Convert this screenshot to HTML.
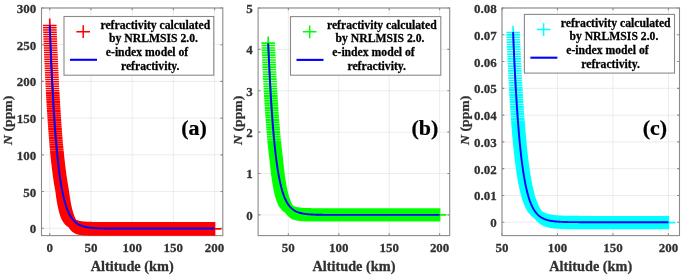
<!DOCTYPE html>
<html><head><meta charset="utf-8"><style>html,body{margin:0;padding:0;background:#fff;width:685px;height:278px;overflow:hidden}</style></head>
<body><div style="position:relative;width:685px;height:278px">
<svg width="685" height="278" viewBox="0 0 685 278" style="position:absolute;left:0;top:0;filter:blur(0.4px)">
<path d="M49.74 8V235.6M90.95 8V235.6M132.15 8V235.6M173.35 8V235.6M214.56 8V235.6M41.5 228.26H222.8M41.5 191.55H222.8M41.5 154.84H222.8M41.5 118.13H222.8M41.5 81.42H222.8M41.5 44.71H222.8M41.5 8H222.8" stroke="#e4e4e4" stroke-width="0.7" fill="none"/>
<path d="M49.74 235.6v-2.3M49.74 8v2.3M90.95 235.6v-2.3M90.95 8v2.3M132.15 235.6v-2.3M132.15 8v2.3M173.35 235.6v-2.3M173.35 8v2.3M214.56 235.6v-2.3M214.56 8v2.3M41.5 228.26h2.3M222.8 228.26h-2.3M41.5 191.55h2.3M222.8 191.55h-2.3M41.5 154.84h2.3M222.8 154.84h-2.3M41.5 118.13h2.3M222.8 118.13h-2.3M41.5 81.42h2.3M222.8 81.42h-2.3M41.5 44.71h2.3M222.8 44.71h-2.3M41.5 8h2.3M222.8 8h-2.3" stroke="#8a8a8a" stroke-width="1.1" fill="none"/>
<rect x="41.5" y="8" width="181.3" height="227.6" stroke="#8a8a8a" stroke-width="1.1" fill="none"/>
<path d="M50.22 152.6h13.6M57.02 145.7v13.8M50.3 153.44h13.6M57.1 146.54v13.8M50.38 154.28h13.6M57.18 147.38v13.8M50.46 155.1h13.6M57.26 148.2v13.8M50.55 155.92h13.6M57.35 149.02v13.8M50.63 156.72h13.6M57.43 149.82v13.8M50.71 157.52h13.6M57.51 150.62v13.8M50.79 158.31h13.6M57.59 151.41v13.8M50.88 159.09h13.6M57.68 152.19v13.8M50.96 159.86h13.6M57.76 152.96v13.8M51.04 160.62h13.6M57.84 153.72v13.8M51.12 161.37h13.6M57.92 154.47v13.8M51.21 162.12h13.6M58.01 155.22v13.8M51.29 162.86h13.6M58.09 155.96v13.8M51.37 163.59h13.6M58.17 156.69v13.8M51.45 164.31h13.6M58.25 157.41v13.8M51.53 165.02h13.6M58.33 158.12v13.8M51.62 165.73h13.6M58.42 158.83v13.8M51.7 166.42h13.6M58.5 159.52v13.8M51.78 167.11h13.6M58.58 160.21v13.8M51.86 167.8h13.6M58.66 160.9v13.8M51.95 168.47h13.6M58.75 161.57v13.8M52.03 169.14h13.6M58.83 162.24v13.8M52.11 169.8h13.6M58.91 162.9v13.8M52.19 170.45h13.6M58.99 163.55v13.8M52.28 171.1h13.6M59.08 164.2v13.8M52.36 171.73h13.6M59.16 164.83v13.8M52.44 172.36h13.6M59.24 165.46v13.8M52.52 172.99h13.6M59.32 166.09v13.8M52.61 173.61h13.6M59.41 166.71v13.8M52.69 174.22h13.6M59.49 167.32v13.8M52.77 174.82h13.6M59.57 167.92v13.8M52.85 175.42h13.6M59.65 168.52v13.8M52.94 176.01h13.6M59.74 169.11v13.8M53.02 176.59h13.6M59.82 169.69v13.8M53.1 177.17h13.6M59.9 170.27v13.8M53.18 177.74h13.6M59.98 170.84v13.8M53.27 178.31h13.6M60.07 171.41v13.8M53.35 178.86h13.6M60.15 171.96v13.8M53.43 179.42h13.6M60.23 172.52v13.8M53.51 179.96h13.6M60.31 173.06v13.8M53.59 180.5h13.6M60.39 173.6v13.8M53.68 181.04h13.6M60.48 174.14v13.8M53.76 181.57h13.6M60.56 174.67v13.8M53.84 182.09h13.6M60.64 175.19v13.8M53.92 182.61h13.6M60.72 175.71v13.8M54.01 183.12h13.6M60.81 176.22v13.8M54.09 183.62h13.6M60.89 176.72v13.8M54.17 184.12h13.6M60.97 177.22v13.8M54.25 184.62h13.6M61.05 177.72v13.8M54.34 185.1h13.6M61.14 178.2v13.8M54.42 185.59h13.6M61.22 178.69v13.8M54.5 186.07h13.6M61.3 179.17v13.8M54.58 186.54h13.6M61.38 179.64v13.8M54.67 187.01h13.6M61.47 180.11v13.8M54.75 187.47h13.6M61.55 180.57v13.8M54.83 187.93h13.6M61.63 181.03v13.8M54.91 188.38h13.6M61.71 181.48v13.8M55 188.83h13.6M61.8 181.93v13.8M55.08 189.27h13.6M61.88 182.37v13.8M55.16 189.71h13.6M61.96 182.81v13.8M55.24 190.14h13.6M62.04 183.24v13.8M55.33 190.63h13.6M62.13 183.73v13.8M55.41 191.29h13.6M62.21 184.39v13.8M55.49 191.94h13.6M62.29 185.04v13.8M55.57 192.57h13.6M62.37 185.67v13.8M55.66 193.2h13.6M62.46 186.3v13.8M55.74 193.81h13.6M62.54 186.91v13.8M55.82 194.42h13.6M62.62 187.52v13.8M55.9 195.01h13.6M62.7 188.11v13.8M55.98 195.59h13.6M62.78 188.69v13.8M56.07 196.16h13.6M62.87 189.26v13.8M56.15 196.73h13.6M62.95 189.83v13.8M56.23 197.28h13.6M63.03 190.38v13.8M56.31 197.82h13.6M63.11 190.92v13.8M56.4 198.36h13.6M63.2 191.46v13.8M56.48 198.88h13.6M63.28 191.98v13.8M56.56 199.4h13.6M63.36 192.5v13.8M56.64 199.9h13.6M63.44 193v13.8M56.73 200.4h13.6M63.53 193.5v13.8M56.81 200.89h13.6M63.61 193.99v13.8M56.89 201.37h13.6M63.69 194.47v13.8M56.97 201.85h13.6M63.77 194.95v13.8M57.06 202.31h13.6M63.86 195.41v13.8M57.14 202.77h13.6M63.94 195.87v13.8M57.22 203.22h13.6M64.02 196.32v13.8M57.3 203.66h13.6M64.1 196.76v13.8M57.39 204.09h13.6M64.19 197.19v13.8M57.47 204.52h13.6M64.27 197.62v13.8M57.55 204.94h13.6M64.35 198.04v13.8M57.63 205.35h13.6M64.43 198.45v13.8M57.72 205.75h13.6M64.52 198.85v13.8M57.8 206.15h13.6M64.6 199.25v13.8M57.88 206.54h13.6M64.68 199.64v13.8M57.96 206.93h13.6M64.76 200.03v13.8M58.05 207.3h13.6M64.85 200.4v13.8M58.13 207.68h13.6M64.93 200.78v13.8M58.21 208.04h13.6M65.01 201.14v13.8M58.29 208.4h13.6M65.09 201.5v13.8M58.37 208.75h13.6M65.17 201.85v13.8M58.46 209.1h13.6M65.26 202.2v13.8M58.54 209.44h13.6M65.34 202.54v13.8M58.62 209.77h13.6M65.42 202.87v13.8M58.7 210.1h13.6M65.5 203.2v13.8M58.79 210.42h13.6M65.59 203.52v13.8M58.87 210.74h13.6M65.67 203.84v13.8M58.95 211.05h13.6M65.75 204.15v13.8M59.03 211.36h13.6M65.83 204.46v13.8M59.12 211.66h13.6M65.92 204.76v13.8M59.2 211.95h13.6M66 205.05v13.8M59.28 212.25h13.6M66.08 205.35v13.8M59.36 212.53h13.6M66.16 205.63v13.8M59.45 212.81h13.6M66.25 205.91v13.8M59.53 213.09h13.6M66.33 206.19v13.8M59.61 213.36h13.6M66.41 206.46v13.8M59.69 213.63h13.6M66.49 206.73v13.8M59.78 213.89h13.6M66.58 206.99v13.8M59.86 214.15h13.6M66.66 207.25v13.8M59.94 214.4h13.6M66.74 207.5v13.8M60.02 214.65h13.6M66.82 207.75v13.8M60.11 214.89h13.6M66.91 207.99v13.8M60.19 215.13h13.6M66.99 208.23v13.8M60.27 215.37h13.6M67.07 208.47v13.8M60.35 215.6h13.6M67.15 208.7v13.8M60.43 215.83h13.6M67.23 208.93v13.8M60.52 216.05h13.6M67.32 209.15v13.8M60.6 216.27h13.6M67.4 209.37v13.8M60.68 216.49h13.6M67.48 209.59v13.8M60.76 216.7h13.6M67.56 209.8v13.8M60.85 216.91h13.6M67.65 210.01v13.8M60.93 217.12h13.6M67.73 210.22v13.8M61.01 217.32h13.6M67.81 210.42v13.8M61.09 217.52h13.6M67.89 210.62v13.8M61.18 217.71h13.6M67.98 210.81v13.8M61.26 217.91h13.6M68.06 211.01v13.8M61.34 218.1h13.6M68.14 211.2v13.8M61.42 218.28h13.6M68.22 211.38v13.8M61.51 218.46h13.6M68.31 211.56v13.8M61.59 218.64h13.6M68.39 211.74v13.8M61.67 218.82h13.6M68.47 211.92v13.8M61.75 218.99h13.6M68.55 212.09v13.8M61.84 219.16h13.6M68.64 212.26v13.8M61.92 219.33h13.6M68.72 212.43v13.8M62 219.49h13.6M68.8 212.59v13.8M62.08 219.65h13.6M68.88 212.75v13.8M62.17 219.81h13.6M68.97 212.91v13.8M62.25 219.97h13.6M69.05 213.07v13.8M62.33 220.12h13.6M69.13 213.22v13.8M62.41 220.27h13.6M69.21 213.37v13.8M62.5 220.42h13.6M69.3 213.52v13.8M62.58 220.56h13.6M69.38 213.66v13.8M62.99 221.25h13.6M69.79 214.35v13.8M63.4 221.88h13.6M70.2 214.98v13.8M63.81 222.46h13.6M70.61 215.56v13.8M64.23 223h13.6M71.03 216.1v13.8M64.64 223.48h13.6M71.44 216.58v13.8M65.05 223.93h13.6M71.85 217.03v13.8M65.46 224.34h13.6M72.26 217.44v13.8M65.87 224.72h13.6M72.67 217.82v13.8M66.29 225.06h13.6M73.09 218.16v13.8M66.7 225.38h13.6M73.5 218.48v13.8M67.11 225.67h13.6M73.91 218.77v13.8M67.52 225.93h13.6M74.32 219.03v13.8M67.93 226.17h13.6M74.73 219.27v13.8M68.35 226.4h13.6M75.15 219.5v13.8M68.76 226.6h13.6M75.56 219.7v13.8M69.17 226.79h13.6M75.97 219.89v13.8M69.58 226.96h13.6M76.38 220.06v13.8M69.99 227.12h13.6M76.79 220.22v13.8M70.41 227.26h13.6M77.21 220.36v13.8M70.82 227.4h13.6M77.62 220.5v13.8M71.23 227.52h13.6M78.03 220.62v13.8M71.64 227.63h13.6M78.44 220.73v13.8M72.05 227.73h13.6M78.85 220.83v13.8M72.47 227.83h13.6M79.27 220.93v13.8M72.88 227.91h13.6M79.68 221.01v13.8M73.29 227.99h13.6M80.09 221.09v13.8M73.7 228.06h13.6M80.5 221.16v13.8M74.11 228.13h13.6M80.91 221.23v13.8M74.53 228.19h13.6M81.33 221.29v13.8M74.94 228.24h13.6M81.74 221.34v13.8M75.35 228.3h13.6M82.15 221.4v13.8M75.76 228.34h13.6M82.56 221.44v13.8M76.18 228.39h13.6M82.98 221.49v13.8M76.59 228.42h13.6M83.39 221.52v13.8M77 228.46h13.6M83.8 221.56v13.8M77.41 228.49h13.6M84.21 221.59v13.8M77.82 228.52h13.6M84.62 221.62v13.8M78.24 228.55h13.6M85.04 221.65v13.8M78.65 228.58h13.6M85.45 221.68v13.8M79.06 228.6h13.6M85.86 221.7v13.8M79.47 228.62h13.6M86.27 221.72v13.8M79.88 228.64h13.6M86.68 221.74v13.8M80.3 228.66h13.6M87.1 221.76v13.8M80.71 228.68h13.6M87.51 221.78v13.8M81.12 228.69h13.6M87.92 221.79v13.8M81.53 228.71h13.6M88.33 221.81v13.8M81.94 228.72h13.6M88.74 221.82v13.8M82.36 228.73h13.6M89.16 221.83v13.8M82.77 228.74h13.6M89.57 221.84v13.8M83.18 228.75h13.6M89.98 221.85v13.8M83.59 228.76h13.6M90.39 221.86v13.8M84 228.77h13.6M90.8 221.87v13.8M84.42 228.77h13.6M91.22 221.87v13.8M84.83 228.78h13.6M91.63 221.88v13.8M85.24 228.79h13.6M92.04 221.89v13.8M85.65 228.79h13.6M92.45 221.89v13.8M86.06 228.8h13.6M92.86 221.9v13.8M86.48 228.8h13.6M93.28 221.9v13.8M86.89 228.81h13.6M93.69 221.91v13.8M87.3 228.81h13.6M94.1 221.91v13.8M87.71 228.82h13.6M94.51 221.92v13.8M88.12 228.82h13.6M94.92 221.92v13.8M88.54 228.82h13.6M95.34 221.92v13.8M88.95 228.83h13.6M95.75 221.93v13.8M89.36 228.83h13.6M96.16 221.93v13.8M89.77 228.83h13.6M96.57 221.93v13.8M90.18 228.83h13.6M96.98 221.93v13.8M90.6 228.84h13.6M97.4 221.94v13.8M91.01 228.84h13.6M97.81 221.94v13.8M91.42 228.84h13.6M98.22 221.94v13.8M91.83 228.84h13.6M98.63 221.94v13.8M92.24 228.84h13.6M99.04 221.94v13.8M92.66 228.84h13.6M99.46 221.94v13.8M93.07 228.84h13.6M99.87 221.94v13.8M93.48 228.85h13.6M100.28 221.95v13.8M93.89 228.85h13.6M100.69 221.95v13.8M94.31 228.85h13.6M101.11 221.95v13.8M94.72 228.85h13.6M101.52 221.95v13.8M95.13 228.85h13.6M101.93 221.95v13.8M95.54 228.85h13.6M102.34 221.95v13.8M95.95 228.85h13.6M102.75 221.95v13.8M96.37 228.85h13.6M103.17 221.95v13.8M96.78 228.85h13.6M103.58 221.95v13.8M97.19 228.85h13.6M103.99 221.95v13.8M97.6 228.85h13.6M104.4 221.95v13.8M98.01 228.85h13.6M104.81 221.95v13.8M98.43 228.85h13.6M105.23 221.95v13.8M98.84 228.85h13.6M105.64 221.95v13.8M99.25 228.85h13.6M106.05 221.95v13.8M99.66 228.85h13.6M106.46 221.95v13.8M100.07 228.85h13.6M106.87 221.95v13.8M100.49 228.86h13.6M107.29 221.96v13.8M100.9 228.86h13.6M107.7 221.96v13.8M101.31 228.86h13.6M108.11 221.96v13.8M101.72 228.86h13.6M108.52 221.96v13.8M102.13 228.86h13.6M108.93 221.96v13.8M102.55 228.86h13.6M109.35 221.96v13.8M102.96 228.86h13.6M109.76 221.96v13.8M103.37 228.86h13.6M110.17 221.96v13.8M103.78 228.86h13.6M110.58 221.96v13.8M104.19 228.86h13.6M110.99 221.96v13.8M104.61 228.86h13.6M111.41 221.96v13.8M105.02 228.86h13.6M111.82 221.96v13.8M105.43 228.86h13.6M112.23 221.96v13.8M105.84 228.86h13.6M112.64 221.96v13.8M106.25 228.86h13.6M113.05 221.96v13.8M106.67 228.86h13.6M113.47 221.96v13.8M107.08 228.86h13.6M113.88 221.96v13.8M107.49 228.86h13.6M114.29 221.96v13.8M107.9 228.86h13.6M114.7 221.96v13.8M108.31 228.86h13.6M115.11 221.96v13.8M108.73 228.86h13.6M115.53 221.96v13.8M109.14 228.86h13.6M115.94 221.96v13.8M109.55 228.86h13.6M116.35 221.96v13.8M109.96 228.86h13.6M116.76 221.96v13.8M110.37 228.86h13.6M117.17 221.96v13.8M110.79 228.86h13.6M117.59 221.96v13.8M111.2 228.86h13.6M118 221.96v13.8M111.61 228.86h13.6M118.41 221.96v13.8M112.02 228.86h13.6M118.82 221.96v13.8M112.44 228.86h13.6M119.24 221.96v13.8M112.85 228.86h13.6M119.65 221.96v13.8M113.26 228.86h13.6M120.06 221.96v13.8M113.67 228.86h13.6M120.47 221.96v13.8M114.08 228.86h13.6M120.88 221.96v13.8M114.5 228.86h13.6M121.3 221.96v13.8M114.91 228.86h13.6M121.71 221.96v13.8M115.32 228.86h13.6M122.12 221.96v13.8M115.73 228.86h13.6M122.53 221.96v13.8M116.14 228.86h13.6M122.94 221.96v13.8M116.56 228.86h13.6M123.36 221.96v13.8M116.97 228.86h13.6M123.77 221.96v13.8M117.38 228.86h13.6M124.18 221.96v13.8M117.79 228.86h13.6M124.59 221.96v13.8M118.2 228.86h13.6M125 221.96v13.8M118.62 228.86h13.6M125.42 221.96v13.8M119.03 228.86h13.6M125.83 221.96v13.8M119.44 228.86h13.6M126.24 221.96v13.8M119.85 228.86h13.6M126.65 221.96v13.8M120.26 228.86h13.6M127.06 221.96v13.8M120.68 228.86h13.6M127.48 221.96v13.8M121.09 228.86h13.6M127.89 221.96v13.8M121.5 228.86h13.6M128.3 221.96v13.8M121.91 228.86h13.6M128.71 221.96v13.8M122.32 228.86h13.6M129.12 221.96v13.8M122.74 228.86h13.6M129.54 221.96v13.8M123.15 228.86h13.6M129.95 221.96v13.8M123.56 228.86h13.6M130.36 221.96v13.8M123.97 228.86h13.6M130.77 221.96v13.8M124.38 228.86h13.6M131.18 221.96v13.8M124.8 228.86h13.6M131.6 221.96v13.8M125.21 228.86h13.6M132.01 221.96v13.8M125.62 228.86h13.6M132.42 221.96v13.8M126.03 228.86h13.6M132.83 221.96v13.8M126.44 228.86h13.6M133.24 221.96v13.8M126.86 228.86h13.6M133.66 221.96v13.8M127.27 228.86h13.6M134.07 221.96v13.8M127.68 228.86h13.6M134.48 221.96v13.8M128.09 228.86h13.6M134.89 221.96v13.8M128.5 228.86h13.6M135.3 221.96v13.8M128.92 228.86h13.6M135.72 221.96v13.8M129.33 228.86h13.6M136.13 221.96v13.8M129.74 228.86h13.6M136.54 221.96v13.8M130.15 228.86h13.6M136.95 221.96v13.8M130.57 228.86h13.6M137.37 221.96v13.8M130.98 228.86h13.6M137.78 221.96v13.8M131.39 228.86h13.6M138.19 221.96v13.8M131.8 228.86h13.6M138.6 221.96v13.8M132.21 228.86h13.6M139.01 221.96v13.8M132.63 228.86h13.6M139.43 221.96v13.8M133.04 228.86h13.6M139.84 221.96v13.8M133.45 228.86h13.6M140.25 221.96v13.8M133.86 228.86h13.6M140.66 221.96v13.8M134.27 228.86h13.6M141.07 221.96v13.8M134.69 228.86h13.6M141.49 221.96v13.8M135.1 228.86h13.6M141.9 221.96v13.8M135.51 228.86h13.6M142.31 221.96v13.8M135.92 228.86h13.6M142.72 221.96v13.8M136.33 228.86h13.6M143.13 221.96v13.8M136.75 228.86h13.6M143.55 221.96v13.8M137.16 228.86h13.6M143.96 221.96v13.8M137.57 228.86h13.6M144.37 221.96v13.8M137.98 228.86h13.6M144.78 221.96v13.8M138.39 228.86h13.6M145.19 221.96v13.8M138.81 228.86h13.6M145.61 221.96v13.8M139.22 228.86h13.6M146.02 221.96v13.8M139.63 228.86h13.6M146.43 221.96v13.8M140.04 228.86h13.6M146.84 221.96v13.8M140.45 228.86h13.6M147.25 221.96v13.8M140.87 228.86h13.6M147.67 221.96v13.8M141.28 228.86h13.6M148.08 221.96v13.8M141.69 228.86h13.6M148.49 221.96v13.8M142.1 228.86h13.6M148.9 221.96v13.8M142.51 228.86h13.6M149.31 221.96v13.8M142.93 228.86h13.6M149.73 221.96v13.8M143.34 228.86h13.6M150.14 221.96v13.8M143.75 228.86h13.6M150.55 221.96v13.8M144.16 228.86h13.6M150.96 221.96v13.8M144.57 228.86h13.6M151.37 221.96v13.8M144.99 228.86h13.6M151.79 221.96v13.8M145.4 228.86h13.6M152.2 221.96v13.8M145.81 228.86h13.6M152.61 221.96v13.8M146.22 228.86h13.6M153.02 221.96v13.8M146.63 228.86h13.6M153.43 221.96v13.8M147.05 228.86h13.6M153.85 221.96v13.8M147.46 228.86h13.6M154.26 221.96v13.8M147.87 228.86h13.6M154.67 221.96v13.8M148.28 228.86h13.6M155.08 221.96v13.8M148.7 228.86h13.6M155.5 221.96v13.8M149.11 228.86h13.6M155.91 221.96v13.8M149.52 228.86h13.6M156.32 221.96v13.8M149.93 228.86h13.6M156.73 221.96v13.8M150.34 228.86h13.6M157.14 221.96v13.8M150.76 228.86h13.6M157.56 221.96v13.8M151.17 228.86h13.6M157.97 221.96v13.8M151.58 228.86h13.6M158.38 221.96v13.8M151.99 228.86h13.6M158.79 221.96v13.8M152.4 228.86h13.6M159.2 221.96v13.8M152.82 228.86h13.6M159.62 221.96v13.8M153.23 228.86h13.6M160.03 221.96v13.8M153.64 228.86h13.6M160.44 221.96v13.8M154.05 228.86h13.6M160.85 221.96v13.8M154.46 228.86h13.6M161.26 221.96v13.8M154.88 228.86h13.6M161.68 221.96v13.8M155.29 228.86h13.6M162.09 221.96v13.8M155.7 228.86h13.6M162.5 221.96v13.8M156.11 228.86h13.6M162.91 221.96v13.8M156.52 228.86h13.6M163.32 221.96v13.8M156.94 228.86h13.6M163.74 221.96v13.8M157.35 228.86h13.6M164.15 221.96v13.8M157.76 228.86h13.6M164.56 221.96v13.8M158.17 228.86h13.6M164.97 221.96v13.8M158.58 228.86h13.6M165.38 221.96v13.8M159 228.86h13.6M165.8 221.96v13.8M159.41 228.86h13.6M166.21 221.96v13.8M159.82 228.86h13.6M166.62 221.96v13.8M160.23 228.86h13.6M167.03 221.96v13.8M160.64 228.86h13.6M167.44 221.96v13.8M161.06 228.86h13.6M167.86 221.96v13.8M161.47 228.86h13.6M168.27 221.96v13.8M161.88 228.86h13.6M168.68 221.96v13.8M162.29 228.86h13.6M169.09 221.96v13.8M162.7 228.86h13.6M169.5 221.96v13.8M163.12 228.86h13.6M169.92 221.96v13.8M163.53 228.86h13.6M170.33 221.96v13.8M163.94 228.86h13.6M170.74 221.96v13.8M164.35 228.86h13.6M171.15 221.96v13.8M164.76 228.86h13.6M171.56 221.96v13.8M165.18 228.86h13.6M171.98 221.96v13.8M165.59 228.86h13.6M172.39 221.96v13.8M166 228.86h13.6M172.8 221.96v13.8M166.41 228.86h13.6M173.21 221.96v13.8M166.83 228.86h13.6M173.63 221.96v13.8M167.24 228.86h13.6M174.04 221.96v13.8M167.65 228.86h13.6M174.45 221.96v13.8M168.06 228.86h13.6M174.86 221.96v13.8M168.47 228.86h13.6M175.27 221.96v13.8M168.89 228.86h13.6M175.69 221.96v13.8M169.3 228.86h13.6M176.1 221.96v13.8M169.71 228.86h13.6M176.51 221.96v13.8M170.12 228.86h13.6M176.92 221.96v13.8M170.53 228.86h13.6M177.33 221.96v13.8M170.95 228.86h13.6M177.75 221.96v13.8M171.36 228.86h13.6M178.16 221.96v13.8M171.77 228.86h13.6M178.57 221.96v13.8M172.18 228.86h13.6M178.98 221.96v13.8M172.59 228.86h13.6M179.39 221.96v13.8M173.01 228.86h13.6M179.81 221.96v13.8M173.42 228.86h13.6M180.22 221.96v13.8M173.83 228.86h13.6M180.63 221.96v13.8M174.24 228.86h13.6M181.04 221.96v13.8M174.65 228.86h13.6M181.45 221.96v13.8M175.07 228.86h13.6M181.87 221.96v13.8M175.48 228.86h13.6M182.28 221.96v13.8M175.89 228.86h13.6M182.69 221.96v13.8M176.3 228.86h13.6M183.1 221.96v13.8M176.71 228.86h13.6M183.51 221.96v13.8M177.13 228.86h13.6M183.93 221.96v13.8M177.54 228.86h13.6M184.34 221.96v13.8M177.95 228.86h13.6M184.75 221.96v13.8M178.36 228.86h13.6M185.16 221.96v13.8M178.77 228.86h13.6M185.57 221.96v13.8M179.19 228.86h13.6M185.99 221.96v13.8M179.6 228.86h13.6M186.4 221.96v13.8M180.01 228.86h13.6M186.81 221.96v13.8M180.42 228.86h13.6M187.22 221.96v13.8M180.83 228.86h13.6M187.63 221.96v13.8M181.25 228.86h13.6M188.05 221.96v13.8M181.66 228.86h13.6M188.46 221.96v13.8M182.07 228.86h13.6M188.87 221.96v13.8M182.48 228.86h13.6M189.28 221.96v13.8M182.89 228.86h13.6M189.69 221.96v13.8M183.31 228.86h13.6M190.11 221.96v13.8M183.72 228.86h13.6M190.52 221.96v13.8M184.13 228.86h13.6M190.93 221.96v13.8M184.54 228.86h13.6M191.34 221.96v13.8M184.96 228.86h13.6M191.76 221.96v13.8M185.37 228.86h13.6M192.17 221.96v13.8M185.78 228.86h13.6M192.58 221.96v13.8M186.19 228.86h13.6M192.99 221.96v13.8M186.6 228.86h13.6M193.4 221.96v13.8M187.02 228.86h13.6M193.82 221.96v13.8M187.43 228.86h13.6M194.23 221.96v13.8M187.84 228.86h13.6M194.64 221.96v13.8M188.25 228.86h13.6M195.05 221.96v13.8M188.66 228.86h13.6M195.46 221.96v13.8M189.08 228.86h13.6M195.88 221.96v13.8M189.49 228.86h13.6M196.29 221.96v13.8M189.9 228.86h13.6M196.7 221.96v13.8M190.31 228.86h13.6M197.11 221.96v13.8M190.72 228.86h13.6M197.52 221.96v13.8M191.14 228.86h13.6M197.94 221.96v13.8M191.55 228.86h13.6M198.35 221.96v13.8M191.96 228.86h13.6M198.76 221.96v13.8M192.37 228.86h13.6M199.17 221.96v13.8M192.78 228.86h13.6M199.58 221.96v13.8M193.2 228.86h13.6M200 221.96v13.8M193.61 228.86h13.6M200.41 221.96v13.8M194.02 228.86h13.6M200.82 221.96v13.8M194.43 228.86h13.6M201.23 221.96v13.8M194.84 228.86h13.6M201.64 221.96v13.8M195.26 228.86h13.6M202.06 221.96v13.8M195.67 228.86h13.6M202.47 221.96v13.8M196.08 228.86h13.6M202.88 221.96v13.8M196.49 228.86h13.6M203.29 221.96v13.8M196.9 228.86h13.6M203.7 221.96v13.8M197.32 228.86h13.6M204.12 221.96v13.8M197.73 228.86h13.6M204.53 221.96v13.8M198.14 228.86h13.6M204.94 221.96v13.8M198.55 228.86h13.6M205.35 221.96v13.8M198.96 228.86h13.6M205.76 221.96v13.8M199.38 228.86h13.6M206.18 221.96v13.8M199.79 228.86h13.6M206.59 221.96v13.8M200.2 228.86h13.6M207 221.96v13.8M200.61 228.86h13.6M207.41 221.96v13.8M201.02 228.86h13.6M207.82 221.96v13.8M201.44 228.86h13.6M208.24 221.96v13.8M201.85 228.86h13.6M208.65 221.96v13.8M202.26 228.86h13.6M209.06 221.96v13.8M202.67 228.86h13.6M209.47 221.96v13.8M203.09 228.86h13.6M209.89 221.96v13.8M203.5 228.86h13.6M210.3 221.96v13.8M203.91 228.86h13.6M210.71 221.96v13.8M204.32 228.86h13.6M211.12 221.96v13.8M204.73 228.86h13.6M211.53 221.96v13.8M205.15 228.86h13.6M211.95 221.96v13.8M205.56 228.86h13.6M212.36 221.96v13.8M205.97 228.86h13.6M212.77 221.96v13.8M206.38 228.86h13.6M213.18 221.96v13.8M206.79 228.86h13.6M213.59 221.96v13.8M207.21 228.86h13.6M214.01 221.96v13.8M207.62 228.86h13.6M214.42 221.96v13.8M207.76 228.86h13.6M214.56 221.96v13.8" stroke="#ff0000" stroke-width="1.6" fill="none"/>
<path d="M45.93 92.99h13.6M52.73 86.09v13.8M46.06 95.24h13.6M52.86 88.34v13.8M46.18 97.49h13.6M52.98 90.59v13.8M46.31 99.74h13.6M53.11 92.84v13.8M46.44 101.99h13.6M53.24 95.09v13.8M46.57 104.24h13.6M53.37 97.34v13.8M46.71 106.49h13.6M53.51 99.59v13.8M46.85 108.74h13.6M53.65 101.84v13.8M46.99 110.99h13.6M53.79 104.09v13.8M47.13 113.24h13.6M53.93 106.34v13.8M47.28 115.49h13.6M54.08 108.59v13.8M47.42 117.74h13.6M54.22 110.84v13.8M47.58 119.99h13.6M54.38 113.09v13.8M47.73 122.24h13.6M54.53 115.34v13.8M47.89 124.49h13.6M54.69 117.59v13.8M48.05 126.74h13.6M54.85 119.84v13.8M48.22 128.99h13.6M55.02 122.09v13.8M48.38 131.24h13.6M55.18 124.34v13.8M48.56 133.49h13.6M55.36 126.59v13.8M48.73 135.74h13.6M55.53 128.84v13.8M48.92 137.99h13.6M55.72 131.09v13.8M49.1 140.24h13.6M55.9 133.34v13.8M49.29 142.49h13.6M56.09 135.59v13.8M49.49 144.74h13.6M56.29 137.84v13.8M49.69 146.99h13.6M56.49 140.09v13.8M49.9 149.24h13.6M56.7 142.34v13.8M50.11 151.49h13.6M56.91 144.59v13.8" stroke="#ff0000" stroke-width="2.0" fill="none"/>
<path d="M42.94 25.49h13.6M49.74 18.59v13.8M43.02 27.74h13.6M49.82 20.84v13.8M43.11 29.99h13.6M49.91 23.09v13.8M43.19 32.24h13.6M49.99 25.34v13.8M43.28 34.49h13.6M50.08 27.59v13.8M43.36 36.74h13.6M50.16 29.84v13.8M43.45 38.99h13.6M50.25 32.09v13.8M43.54 41.24h13.6M50.34 34.34v13.8M43.63 43.49h13.6M50.43 36.59v13.8M43.72 45.74h13.6M50.52 38.84v13.8M43.81 47.99h13.6M50.61 41.09v13.8M43.9 50.24h13.6M50.7 43.34v13.8M44 52.49h13.6M50.8 45.59v13.8M44.09 54.74h13.6M50.89 47.84v13.8M44.19 56.99h13.6M50.99 50.09v13.8M44.29 59.24h13.6M51.09 52.34v13.8M44.39 61.49h13.6M51.19 54.59v13.8M44.49 63.74h13.6M51.29 56.84v13.8M44.59 65.99h13.6M51.39 59.09v13.8M44.69 68.24h13.6M51.49 61.34v13.8M44.8 70.49h13.6M51.6 63.59v13.8M44.9 72.74h13.6M51.7 65.84v13.8M45.01 74.99h13.6M51.81 68.09v13.8M45.12 77.24h13.6M51.92 70.34v13.8M45.23 79.49h13.6M52.03 72.59v13.8M45.34 81.74h13.6M52.14 74.84v13.8M45.46 83.99h13.6M52.26 77.09v13.8M45.57 86.24h13.6M52.37 79.34v13.8M45.69 88.49h13.6M52.49 81.59v13.8M45.81 90.74h13.6M52.61 83.84v13.8" stroke="#ff0000" stroke-width="1.6" fill="none"/>
<path d="M49.74 25.19L50.15 36.18L50.56 46.57L50.98 56.41L51.39 65.71L51.8 74.51L52.21 82.84L52.63 90.71L53.04 98.16L53.45 105.21L53.86 111.87L54.27 118.18L54.69 124.14L55.1 129.79L55.51 135.12L55.92 140.17L56.33 144.95L56.75 149.47L57.16 153.74L57.57 157.78L57.98 161.61L58.39 165.23L58.81 168.65L59.22 171.89L59.63 174.95L60.04 177.85L60.45 180.59L60.87 183.18L61.28 185.63L61.69 187.95L62.1 190.15L62.51 192.22L62.93 194.19L63.34 196.04L63.75 197.8L64.16 199.46L64.57 201.03L64.99 202.52L65.4 203.93L65.81 205.26L66.22 206.52L66.63 207.71L67.05 208.84L67.46 209.9L67.87 210.91L68.28 211.86L68.69 212.77L69.11 213.62L69.52 214.43L69.93 215.19L70.34 215.91L70.76 216.6L71.17 217.24L71.58 217.85L71.99 218.43L72.4 218.98L72.82 219.5L73.23 219.99L73.64 220.45L74.05 220.89L74.46 221.3L74.88 221.7L75.29 222.07L75.7 222.42L76.11 222.75L76.52 223.06L76.94 223.36L77.35 223.64L77.76 223.91L78.17 224.16L78.58 224.4L79 224.62L79.41 224.83L79.82 225.03L80.23 225.22L80.64 225.41L81.06 225.58L81.47 225.74L81.88 225.89L82.29 226.03L82.7 226.17L83.12 226.3L83.53 226.42L83.94 226.54L84.35 226.65L84.76 226.75L85.18 226.85L85.59 226.94L86 227.03L86.41 227.11L86.83 227.19L87.24 227.26L87.65 227.33L88.06 227.4L88.47 227.46L88.89 227.52L89.3 227.58L89.71 227.63L90.12 227.68L90.53 227.73L90.95 227.77L91.36 227.81L91.77 227.85L92.18 227.89L92.59 227.93L93.01 227.96L93.42 227.99L93.83 228.03L94.24 228.05L94.65 228.08L95.07 228.11L95.48 228.13L95.89 228.15L96.3 228.18L96.71 228.2L97.13 228.22L97.54 228.23L97.95 228.25L98.36 228.27L98.77 228.28L99.19 228.3L99.6 228.31L100.01 228.33L100.42 228.34L100.83 228.35L101.25 228.36L101.66 228.37L102.07 228.38L102.48 228.39L102.89 228.4L103.31 228.41L103.72 228.42L104.13 228.43L104.54 228.43L104.95 228.44L105.37 228.45L105.78 228.45L106.19 228.46L106.6 228.46L107.02 228.47L107.43 228.47L107.84 228.48L108.25 228.48L108.66 228.49L109.08 228.49L109.49 228.49L109.9 228.5L110.31 228.5L110.72 228.5L111.14 228.51L111.55 228.51L111.96 228.51L112.37 228.51L112.78 228.52L113.2 228.52L113.61 228.52L114.02 228.52L114.43 228.52L114.84 228.53L115.26 228.53L115.67 228.53L116.08 228.53L116.49 228.53L116.9 228.53L117.32 228.54L117.73 228.54L118.14 228.54L118.55 228.54L118.96 228.54L119.38 228.54L119.79 228.54L120.2 228.54L120.61 228.54L121.02 228.54L121.44 228.55L121.85 228.55L122.26 228.55L122.67 228.55L123.09 228.55L123.5 228.55L123.91 228.55L124.32 228.55L124.73 228.55L125.15 228.55L125.56 228.55L125.97 228.55L126.38 228.55L126.79 228.55L127.21 228.55L127.62 228.55L128.03 228.55L128.44 228.55L128.85 228.55L129.27 228.55L129.68 228.55L130.09 228.55L130.5 228.55L130.91 228.55L131.33 228.55L131.74 228.55L132.15 228.56L132.56 228.56L132.97 228.56L133.39 228.56L133.8 228.56L134.21 228.56L134.62 228.56L135.03 228.56L135.45 228.56L135.86 228.56L136.27 228.56L136.68 228.56L137.09 228.56L137.51 228.56L137.92 228.56L138.33 228.56L138.74 228.56L139.15 228.56L139.57 228.56L139.98 228.56L140.39 228.56L140.8 228.56L141.22 228.56L141.63 228.56L142.04 228.56L142.45 228.56L142.86 228.56L143.28 228.56L143.69 228.56L144.1 228.56L144.51 228.56L144.92 228.56L145.34 228.56L145.75 228.56L146.16 228.56L146.57 228.56L146.98 228.56L147.4 228.56L147.81 228.56L148.22 228.56L148.63 228.56L149.04 228.56L149.46 228.56L149.87 228.56L150.28 228.56L150.69 228.56L151.1 228.56L151.52 228.56L151.93 228.56L152.34 228.56L152.75 228.56L153.16 228.56L153.58 228.56L153.99 228.56L154.4 228.56L154.81 228.56L155.22 228.56L155.64 228.56L156.05 228.56L156.46 228.56L156.87 228.56L157.28 228.56L157.7 228.56L158.11 228.56L158.52 228.56L158.93 228.56L159.35 228.56L159.76 228.56L160.17 228.56L160.58 228.56L160.99 228.56L161.41 228.56L161.82 228.56L162.23 228.56L162.64 228.56L163.05 228.56L163.47 228.56L163.88 228.56L164.29 228.56L164.7 228.56L165.11 228.56L165.53 228.56L165.94 228.56L166.35 228.56L166.76 228.56L167.17 228.56L167.59 228.56L168 228.56L168.41 228.56L168.82 228.56L169.23 228.56L169.65 228.56L170.06 228.56L170.47 228.56L170.88 228.56L171.29 228.56L171.71 228.56L172.12 228.56L172.53 228.56L172.94 228.56L173.35 228.56L173.77 228.56L174.18 228.56L174.59 228.56L175 228.56L175.41 228.56L175.83 228.56L176.24 228.56L176.65 228.56L177.06 228.56L177.48 228.56L177.89 228.56L178.3 228.56L178.71 228.56L179.12 228.56L179.54 228.56L179.95 228.56L180.36 228.56L180.77 228.56L181.18 228.56L181.6 228.56L182.01 228.56L182.42 228.56L182.83 228.56L183.24 228.56L183.66 228.56L184.07 228.56L184.48 228.56L184.89 228.56L185.3 228.56L185.72 228.56L186.13 228.56L186.54 228.56L186.95 228.56L187.36 228.56L187.78 228.56L188.19 228.56L188.6 228.56L189.01 228.56L189.42 228.56L189.84 228.56L190.25 228.56L190.66 228.56L191.07 228.56L191.48 228.56L191.9 228.56L192.31 228.56L192.72 228.56L193.13 228.56L193.54 228.56L193.96 228.56L194.37 228.56L194.78 228.56L195.19 228.56L195.61 228.56L196.02 228.56L196.43 228.56L196.84 228.56L197.25 228.56L197.67 228.56L198.08 228.56L198.49 228.56L198.9 228.56L199.31 228.56L199.73 228.56L200.14 228.56L200.55 228.56L200.96 228.56L201.37 228.56L201.79 228.56L202.2 228.56L202.61 228.56L203.02 228.56L203.43 228.56L203.85 228.56L204.26 228.56L204.67 228.56L205.08 228.56L205.49 228.56L205.91 228.56L206.32 228.56L206.73 228.56L207.14 228.56L207.55 228.56L207.97 228.56L208.38 228.56L208.79 228.56L209.2 228.56L209.61 228.56L210.03 228.56L210.44 228.56L210.85 228.56L211.26 228.56L211.67 228.56L212.09 228.56L212.5 228.56L212.91 228.56L213.32 228.56L213.74 228.56L214.15 228.56L214.56 228.56" stroke="#0000ff" stroke-width="1.9" fill="none" stroke-linejoin="round"/>
<g transform="translate(49.74,251.7) scale(1,1.03)"><text font-family="Liberation Serif" font-weight="bold" font-size="13" fill="#303030" stroke="#303030" stroke-width="0.25" text-anchor="middle">0</text></g>
<g transform="translate(90.95,251.7) scale(1,1.03)"><text font-family="Liberation Serif" font-weight="bold" font-size="13" fill="#303030" stroke="#303030" stroke-width="0.25" text-anchor="middle">50</text></g>
<g transform="translate(132.15,251.7) scale(1,1.03)"><text font-family="Liberation Serif" font-weight="bold" font-size="13" fill="#303030" stroke="#303030" stroke-width="0.25" text-anchor="middle">100</text></g>
<g transform="translate(173.35,251.7) scale(1,1.03)"><text font-family="Liberation Serif" font-weight="bold" font-size="13" fill="#303030" stroke="#303030" stroke-width="0.25" text-anchor="middle">150</text></g>
<g transform="translate(214.56,251.7) scale(1,1.03)"><text font-family="Liberation Serif" font-weight="bold" font-size="13" fill="#303030" stroke="#303030" stroke-width="0.25" text-anchor="middle">200</text></g>
<g transform="translate(36.2,233.21) scale(1,1.03)"><text font-family="Liberation Serif" font-weight="bold" font-size="13" fill="#303030" stroke="#303030" stroke-width="0.25" text-anchor="end">0</text></g>
<g transform="translate(36.2,196.5) scale(1,1.03)"><text font-family="Liberation Serif" font-weight="bold" font-size="13" fill="#303030" stroke="#303030" stroke-width="0.25" text-anchor="end">50</text></g>
<g transform="translate(36.2,159.79) scale(1,1.03)"><text font-family="Liberation Serif" font-weight="bold" font-size="13" fill="#303030" stroke="#303030" stroke-width="0.25" text-anchor="end">100</text></g>
<g transform="translate(36.2,123.08) scale(1,1.03)"><text font-family="Liberation Serif" font-weight="bold" font-size="13" fill="#303030" stroke="#303030" stroke-width="0.25" text-anchor="end">150</text></g>
<g transform="translate(36.2,86.37) scale(1,1.03)"><text font-family="Liberation Serif" font-weight="bold" font-size="13" fill="#303030" stroke="#303030" stroke-width="0.25" text-anchor="end">200</text></g>
<g transform="translate(36.2,49.66) scale(1,1.03)"><text font-family="Liberation Serif" font-weight="bold" font-size="13" fill="#303030" stroke="#303030" stroke-width="0.25" text-anchor="end">250</text></g>
<g transform="translate(36.2,12.95) scale(1,1.03)"><text font-family="Liberation Serif" font-weight="bold" font-size="13" fill="#303030" stroke="#303030" stroke-width="0.25" text-anchor="end">300</text></g>
<g transform="translate(132.15,270.8) scale(1,1.05)"><text font-family="Liberation Serif" font-weight="bold" font-size="14.3" fill="#303030" stroke="#303030" stroke-width="0.25" text-anchor="middle">Altitude (km)</text></g>
<g transform="translate(11.6,120.3) scale(0.94,1) rotate(-90)"><text font-family="Liberation Serif" font-weight="bold" font-size="13.8" fill="#303030" stroke="#303030" stroke-width="0.25" text-anchor="middle"><tspan font-style="italic">N</tspan> (ppm)</text></g>
<rect x="64" y="16.5" width="149.75" height="58.7" fill="#fff" stroke="#8a8a8a" stroke-width="1.1"/>
<path d="M76.4 31.7h13.6M83.2 25.3v12.8" stroke="#ff0000" stroke-width="1.5" fill="none"/>
<path d="M70 59.8H97" stroke="#0000ff" stroke-width="2.1" fill="none"/>
<g transform="translate(100.4,29) scale(1,1.04)"><text font-family="Liberation Serif" font-weight="bold" font-size="11.7" fill="#000" stroke="#000" stroke-width="0.25" text-anchor="start">refractivity calculated</text></g>
<g transform="translate(109,42.3) scale(1,1.04)"><text font-family="Liberation Serif" font-weight="bold" font-size="11.7" fill="#000" stroke="#000" stroke-width="0.25" text-anchor="start">by NRLMSIS 2.0.</text></g>
<g transform="translate(105.8,55.6) scale(1,1.04)"><text font-family="Liberation Serif" font-weight="bold" font-size="11.7" fill="#000" stroke="#000" stroke-width="0.25" text-anchor="start">e-index model of</text></g>
<g transform="translate(120.9,69.7) scale(1,1.04)"><text font-family="Liberation Serif" font-weight="bold" font-size="11.7" fill="#000" stroke="#000" stroke-width="0.25" text-anchor="start">refractivity.</text></g>
<g transform="translate(194.1,134.6) scale(1,0.95)"><text font-family="Liberation Serif" font-weight="bold" font-size="22" fill="#000" stroke="#000" stroke-width="0.25" text-anchor="middle">(a)</text></g>
<path d="M288.35 8V235.6M338.77 8V235.6M389.19 8V235.6M439.62 8V235.6M258.1 214.91H449.7M258.1 173.53H449.7M258.1 132.15H449.7M258.1 90.76H449.7M258.1 49.38H449.7M258.1 8H449.7" stroke="#e4e4e4" stroke-width="0.7" fill="none"/>
<path d="M288.35 235.6v-2.3M288.35 8v2.3M338.77 235.6v-2.3M338.77 8v2.3M389.19 235.6v-2.3M389.19 8v2.3M439.62 235.6v-2.3M439.62 8v2.3M258.1 214.91h2.3M449.7 214.91h-2.3M258.1 173.53h2.3M449.7 173.53h-2.3M258.1 132.15h2.3M449.7 132.15h-2.3M258.1 90.76h2.3M449.7 90.76h-2.3M258.1 49.38h2.3M449.7 49.38h-2.3M258.1 8h2.3M449.7 8h-2.3" stroke="#8a8a8a" stroke-width="1.1" fill="none"/>
<rect x="258.1" y="8" width="191.6" height="227.6" stroke="#8a8a8a" stroke-width="1.1" fill="none"/>
<path d="M267.52 142h13.6M274.32 135.3v13.4M267.62 143.02h13.6M274.42 136.32v13.4M267.72 144.03h13.6M274.52 137.33v13.4M267.82 145.02h13.6M274.62 138.32v13.4M267.92 145.99h13.6M274.72 139.29v13.4M268.02 146.96h13.6M274.82 140.26v13.4M268.12 147.91h13.6M274.92 141.21v13.4M268.22 148.85h13.6M275.02 142.15v13.4M268.33 149.77h13.6M275.13 143.07v13.4M268.43 150.68h13.6M275.23 143.98v13.4M268.53 151.58h13.6M275.33 144.88v13.4M268.63 152.46h13.6M275.43 145.76v13.4M268.73 153.34h13.6M275.53 146.64v13.4M268.83 154.2h13.6M275.63 147.5v13.4M268.93 155.05h13.6M275.73 148.35v13.4M269.03 155.88h13.6M275.83 149.18v13.4M269.13 156.71h13.6M275.93 150.01v13.4M269.23 157.52h13.6M276.03 150.82v13.4M269.33 158.33h13.6M276.13 151.63v13.4M269.43 159.12h13.6M276.23 152.42v13.4M269.54 160.13h13.6M276.34 153.43v13.4M269.64 161.16h13.6M276.44 154.46v13.4M269.74 162.18h13.6M276.54 155.48v13.4M269.84 163.17h13.6M276.64 156.47v13.4M269.94 164.15h13.6M276.74 157.45v13.4M270.04 165.11h13.6M276.84 158.41v13.4M270.14 166.05h13.6M276.94 159.35v13.4M270.24 166.98h13.6M277.04 160.28v13.4M270.34 167.88h13.6M277.14 161.18v13.4M270.44 168.77h13.6M277.24 162.07v13.4M270.54 169.64h13.6M277.34 162.94v13.4M270.64 170.5h13.6M277.44 163.8v13.4M270.75 171.34h13.6M277.55 164.64v13.4M270.85 172.16h13.6M277.65 165.46v13.4M270.95 172.97h13.6M277.75 166.27v13.4M271.05 173.76h13.6M277.85 167.06v13.4M271.15 174.54h13.6M277.95 167.84v13.4M271.25 175.3h13.6M278.05 168.6v13.4M271.35 176.05h13.6M278.15 169.35v13.4M271.45 176.79h13.6M278.25 170.09v13.4M271.55 177.51h13.6M278.35 170.81v13.4M271.65 178.22h13.6M278.45 171.52v13.4M271.75 178.91h13.6M278.55 172.21v13.4M271.85 179.59h13.6M278.65 172.89v13.4M271.96 180.26h13.6M278.76 173.56v13.4M272.06 180.91h13.6M278.86 174.21v13.4M272.16 181.55h13.6M278.96 174.85v13.4M272.26 182.19h13.6M279.06 175.49v13.4M272.36 182.8h13.6M279.16 176.1v13.4M272.46 183.41h13.6M279.26 176.71v13.4M272.56 184.01h13.6M279.36 177.31v13.4M272.66 184.59h13.6M279.46 177.89v13.4M272.76 185.16h13.6M279.56 178.46v13.4M272.86 185.73h13.6M279.66 179.03v13.4M272.96 186.28h13.6M279.76 179.58v13.4M273.06 186.82h13.6M279.86 180.12v13.4M273.17 187.35h13.6M279.97 180.65v13.4M273.27 187.87h13.6M280.07 181.17v13.4M273.37 188.38h13.6M280.17 181.68v13.4M273.47 188.88h13.6M280.27 182.18v13.4M273.57 189.38h13.6M280.37 182.68v13.4M273.67 189.86h13.6M280.47 183.16v13.4M273.77 190.33h13.6M280.57 183.63v13.4M273.87 190.8h13.6M280.67 184.1v13.4M273.97 191.25h13.6M280.77 184.55v13.4M274.07 191.7h13.6M280.87 185v13.4M274.17 192.14h13.6M280.97 185.44v13.4M274.27 192.57h13.6M281.07 185.87v13.4M274.38 192.99h13.6M281.18 186.29v13.4M274.48 193.41h13.6M281.28 186.71v13.4M274.58 193.81h13.6M281.38 187.11v13.4M274.68 194.21h13.6M281.48 187.51v13.4M274.78 194.6h13.6M281.58 187.9v13.4M274.88 194.99h13.6M281.68 188.29v13.4M274.98 195.36h13.6M281.78 188.66v13.4M275.08 195.73h13.6M281.88 189.03v13.4M275.18 196.09h13.6M281.98 189.39v13.4M275.28 196.45h13.6M282.08 189.75v13.4M275.38 196.8h13.6M282.18 190.1v13.4M275.48 197.14h13.6M282.28 190.44v13.4M275.59 197.48h13.6M282.39 190.78v13.4M275.69 197.81h13.6M282.49 191.11v13.4M275.79 198.13h13.6M282.59 191.43v13.4M275.89 198.45h13.6M282.69 191.75v13.4M275.99 198.76h13.6M282.79 192.06v13.4M276.09 199.06h13.6M282.89 192.36v13.4M276.19 199.36h13.6M282.99 192.66v13.4M276.29 199.66h13.6M283.09 192.96v13.4M276.39 199.95h13.6M283.19 193.25v13.4M276.49 200.23h13.6M283.29 193.53v13.4M276.59 200.51h13.6M283.39 193.81v13.4M276.69 200.78h13.6M283.49 194.08v13.4M276.8 201.05h13.6M283.6 194.35v13.4M276.9 201.31h13.6M283.7 194.61v13.4M277 201.56h13.6M283.8 194.86v13.4M277.1 201.82h13.6M283.9 195.12v13.4M277.2 202.06h13.6M284 195.36v13.4M277.3 202.31h13.6M284.1 195.61v13.4M277.4 202.55h13.6M284.2 195.85v13.4M277.5 202.78h13.6M284.3 196.08v13.4M277.6 203.01h13.6M284.4 196.31v13.4M277.7 203.23h13.6M284.5 196.53v13.4M277.8 203.45h13.6M284.6 196.75v13.4M277.91 203.67h13.6M284.71 196.97v13.4M278.01 203.88h13.6M284.81 197.18v13.4M278.11 204.09h13.6M284.91 197.39v13.4M278.21 204.3h13.6M285.01 197.6v13.4M278.31 204.5h13.6M285.11 197.8v13.4M278.41 204.69h13.6M285.21 197.99v13.4M278.51 204.89h13.6M285.31 198.19v13.4M278.61 205.08h13.6M285.41 198.38v13.4M278.71 205.26h13.6M285.51 198.56v13.4M278.81 205.44h13.6M285.61 198.74v13.4M278.91 205.62h13.6M285.71 198.92v13.4M279.01 205.8h13.6M285.81 199.1v13.4M279.12 205.97h13.6M285.92 199.27v13.4M279.22 206.14h13.6M286.02 199.44v13.4M279.32 206.31h13.6M286.12 199.61v13.4M279.42 206.47h13.6M286.22 199.77v13.4M279.52 206.63h13.6M286.32 199.93v13.4M279.62 206.78h13.6M286.42 200.08v13.4M279.72 206.94h13.6M286.52 200.24v13.4M279.82 207.09h13.6M286.62 200.39v13.4M279.92 207.24h13.6M286.72 200.54v13.4M280.43 207.93h13.6M287.23 201.23v13.4M280.93 208.57h13.6M287.73 201.87v13.4M281.43 209.15h13.6M288.23 202.45v13.4M281.94 209.67h13.6M288.74 202.97v13.4M282.44 210.15h13.6M289.24 203.45v13.4M282.95 210.58h13.6M289.75 203.88v13.4M283.45 210.97h13.6M290.25 204.27v13.4M283.96 211.33h13.6M290.76 204.63v13.4M284.46 211.66h13.6M291.26 204.96v13.4M284.96 211.95h13.6M291.76 205.25v13.4M285.47 212.22h13.6M292.27 205.52v13.4M285.97 212.47h13.6M292.77 205.77v13.4M286.48 212.69h13.6M293.28 205.99v13.4M286.98 212.89h13.6M293.78 206.19v13.4M287.49 213.08h13.6M294.29 206.38v13.4M287.99 213.24h13.6M294.79 206.54v13.4M288.49 213.39h13.6M295.29 206.69v13.4M289 213.53h13.6M295.8 206.83v13.4M289.5 213.66h13.6M296.3 206.96v13.4M290.01 213.77h13.6M296.81 207.07v13.4M290.51 213.87h13.6M297.31 207.17v13.4M291.01 213.97h13.6M297.81 207.27v13.4M291.52 214.05h13.6M298.32 207.35v13.4M292.02 214.13h13.6M298.82 207.43v13.4M292.53 214.2h13.6M299.33 207.5v13.4M293.03 214.27h13.6M299.83 207.57v13.4M293.54 214.33h13.6M300.34 207.63v13.4M294.04 214.38h13.6M300.84 207.68v13.4M294.54 214.43h13.6M301.34 207.73v13.4M295.05 214.47h13.6M301.85 207.77v13.4M295.55 214.51h13.6M302.35 207.81v13.4M296.06 214.55h13.6M302.86 207.85v13.4M296.56 214.58h13.6M303.36 207.88v13.4M297.07 214.61h13.6M303.87 207.91v13.4M297.57 214.64h13.6M304.37 207.94v13.4M298.07 214.66h13.6M304.87 207.96v13.4M298.58 214.68h13.6M305.38 207.98v13.4M299.08 214.7h13.6M305.88 208v13.4M299.59 214.72h13.6M306.39 208.02v13.4M300.09 214.74h13.6M306.89 208.04v13.4M300.59 214.76h13.6M307.39 208.06v13.4M301.1 214.77h13.6M307.9 208.07v13.4M301.6 214.78h13.6M308.4 208.08v13.4M302.11 214.79h13.6M308.91 208.09v13.4M302.61 214.8h13.6M309.41 208.1v13.4M303.12 214.81h13.6M309.92 208.11v13.4M303.62 214.82h13.6M310.42 208.12v13.4M304.12 214.83h13.6M310.92 208.13v13.4M304.63 214.84h13.6M311.43 208.14v13.4M305.13 214.84h13.6M311.93 208.14v13.4M305.64 214.85h13.6M312.44 208.15v13.4M306.14 214.86h13.6M312.94 208.16v13.4M306.65 214.86h13.6M313.45 208.16v13.4M307.15 214.86h13.6M313.95 208.16v13.4M307.65 214.87h13.6M314.45 208.17v13.4M308.16 214.87h13.6M314.96 208.17v13.4M308.66 214.88h13.6M315.46 208.18v13.4M309.17 214.88h13.6M315.97 208.18v13.4M309.67 214.88h13.6M316.47 208.18v13.4M310.17 214.88h13.6M316.97 208.18v13.4M310.68 214.89h13.6M317.48 208.19v13.4M311.18 214.89h13.6M317.98 208.19v13.4M311.69 214.89h13.6M318.49 208.19v13.4M312.19 214.89h13.6M318.99 208.19v13.4M312.7 214.89h13.6M319.5 208.19v13.4M313.2 214.89h13.6M320 208.19v13.4M313.7 214.9h13.6M320.5 208.2v13.4M314.21 214.9h13.6M321.01 208.2v13.4M314.71 214.9h13.6M321.51 208.2v13.4M315.22 214.9h13.6M322.02 208.2v13.4M315.72 214.9h13.6M322.52 208.2v13.4M316.23 214.9h13.6M323.03 208.2v13.4M316.73 214.9h13.6M323.53 208.2v13.4M317.23 214.9h13.6M324.03 208.2v13.4M317.74 214.9h13.6M324.54 208.2v13.4M318.24 214.9h13.6M325.04 208.2v13.4M318.75 214.9h13.6M325.55 208.2v13.4M319.25 214.9h13.6M326.05 208.2v13.4M319.75 214.91h13.6M326.55 208.21v13.4M320.26 214.91h13.6M327.06 208.21v13.4M320.76 214.91h13.6M327.56 208.21v13.4M321.27 214.91h13.6M328.07 208.21v13.4M321.77 214.91h13.6M328.57 208.21v13.4M322.28 214.91h13.6M329.08 208.21v13.4M322.78 214.91h13.6M329.58 208.21v13.4M323.28 214.91h13.6M330.08 208.21v13.4M323.79 214.91h13.6M330.59 208.21v13.4M324.29 214.91h13.6M331.09 208.21v13.4M324.8 214.91h13.6M331.6 208.21v13.4M325.3 214.91h13.6M332.1 208.21v13.4M325.81 214.91h13.6M332.61 208.21v13.4M326.31 214.91h13.6M333.11 208.21v13.4M326.81 214.91h13.6M333.61 208.21v13.4M327.32 214.91h13.6M334.12 208.21v13.4M327.82 214.91h13.6M334.62 208.21v13.4M328.33 214.91h13.6M335.13 208.21v13.4M328.83 214.91h13.6M335.63 208.21v13.4M329.33 214.91h13.6M336.13 208.21v13.4M329.84 214.91h13.6M336.64 208.21v13.4M330.34 214.91h13.6M337.14 208.21v13.4M330.85 214.91h13.6M337.65 208.21v13.4M331.35 214.91h13.6M338.15 208.21v13.4M331.86 214.91h13.6M338.66 208.21v13.4M332.36 214.91h13.6M339.16 208.21v13.4M332.86 214.91h13.6M339.66 208.21v13.4M333.37 214.91h13.6M340.17 208.21v13.4M333.87 214.91h13.6M340.67 208.21v13.4M334.38 214.91h13.6M341.18 208.21v13.4M334.88 214.91h13.6M341.68 208.21v13.4M335.39 214.91h13.6M342.19 208.21v13.4M335.89 214.91h13.6M342.69 208.21v13.4M336.39 214.91h13.6M343.19 208.21v13.4M336.9 214.91h13.6M343.7 208.21v13.4M337.4 214.91h13.6M344.2 208.21v13.4M337.91 214.91h13.6M344.71 208.21v13.4M338.41 214.91h13.6M345.21 208.21v13.4M338.91 214.91h13.6M345.71 208.21v13.4M339.42 214.91h13.6M346.22 208.21v13.4M339.92 214.91h13.6M346.72 208.21v13.4M340.43 214.91h13.6M347.23 208.21v13.4M340.93 214.91h13.6M347.73 208.21v13.4M341.44 214.91h13.6M348.24 208.21v13.4M341.94 214.91h13.6M348.74 208.21v13.4M342.44 214.91h13.6M349.24 208.21v13.4M342.95 214.91h13.6M349.75 208.21v13.4M343.45 214.91h13.6M350.25 208.21v13.4M343.96 214.91h13.6M350.76 208.21v13.4M344.46 214.91h13.6M351.26 208.21v13.4M344.97 214.91h13.6M351.77 208.21v13.4M345.47 214.91h13.6M352.27 208.21v13.4M345.97 214.91h13.6M352.77 208.21v13.4M346.48 214.91h13.6M353.28 208.21v13.4M346.98 214.91h13.6M353.78 208.21v13.4M347.49 214.91h13.6M354.29 208.21v13.4M347.99 214.91h13.6M354.79 208.21v13.4M348.49 214.91h13.6M355.29 208.21v13.4M349 214.91h13.6M355.8 208.21v13.4M349.5 214.91h13.6M356.3 208.21v13.4M350.01 214.91h13.6M356.81 208.21v13.4M350.51 214.91h13.6M357.31 208.21v13.4M351.02 214.91h13.6M357.82 208.21v13.4M351.52 214.91h13.6M358.32 208.21v13.4M352.02 214.91h13.6M358.82 208.21v13.4M352.53 214.91h13.6M359.33 208.21v13.4M353.03 214.91h13.6M359.83 208.21v13.4M353.54 214.91h13.6M360.34 208.21v13.4M354.04 214.91h13.6M360.84 208.21v13.4M354.55 214.91h13.6M361.35 208.21v13.4M355.05 214.91h13.6M361.85 208.21v13.4M355.55 214.91h13.6M362.35 208.21v13.4M356.06 214.91h13.6M362.86 208.21v13.4M356.56 214.91h13.6M363.36 208.21v13.4M357.07 214.91h13.6M363.87 208.21v13.4M357.57 214.91h13.6M364.37 208.21v13.4M358.07 214.91h13.6M364.87 208.21v13.4M358.58 214.91h13.6M365.38 208.21v13.4M359.08 214.91h13.6M365.88 208.21v13.4M359.59 214.91h13.6M366.39 208.21v13.4M360.09 214.91h13.6M366.89 208.21v13.4M360.6 214.91h13.6M367.4 208.21v13.4M361.1 214.91h13.6M367.9 208.21v13.4M361.6 214.91h13.6M368.4 208.21v13.4M362.11 214.91h13.6M368.91 208.21v13.4M362.61 214.91h13.6M369.41 208.21v13.4M363.12 214.91h13.6M369.92 208.21v13.4M363.62 214.91h13.6M370.42 208.21v13.4M364.13 214.91h13.6M370.93 208.21v13.4M364.63 214.91h13.6M371.43 208.21v13.4M365.13 214.91h13.6M371.93 208.21v13.4M365.64 214.91h13.6M372.44 208.21v13.4M366.14 214.91h13.6M372.94 208.21v13.4M366.65 214.91h13.6M373.45 208.21v13.4M367.15 214.91h13.6M373.95 208.21v13.4M367.65 214.91h13.6M374.45 208.21v13.4M368.16 214.91h13.6M374.96 208.21v13.4M368.66 214.91h13.6M375.46 208.21v13.4M369.17 214.91h13.6M375.97 208.21v13.4M369.67 214.91h13.6M376.47 208.21v13.4M370.18 214.91h13.6M376.98 208.21v13.4M370.68 214.91h13.6M377.48 208.21v13.4M371.18 214.91h13.6M377.98 208.21v13.4M371.69 214.91h13.6M378.49 208.21v13.4M372.19 214.91h13.6M378.99 208.21v13.4M372.7 214.91h13.6M379.5 208.21v13.4M373.2 214.91h13.6M380 208.21v13.4M373.71 214.91h13.6M380.51 208.21v13.4M374.21 214.91h13.6M381.01 208.21v13.4M374.71 214.91h13.6M381.51 208.21v13.4M375.22 214.91h13.6M382.02 208.21v13.4M375.72 214.91h13.6M382.52 208.21v13.4M376.23 214.91h13.6M383.03 208.21v13.4M376.73 214.91h13.6M383.53 208.21v13.4M377.23 214.91h13.6M384.03 208.21v13.4M377.74 214.91h13.6M384.54 208.21v13.4M378.24 214.91h13.6M385.04 208.21v13.4M378.75 214.91h13.6M385.55 208.21v13.4M379.25 214.91h13.6M386.05 208.21v13.4M379.76 214.91h13.6M386.56 208.21v13.4M380.26 214.91h13.6M387.06 208.21v13.4M380.76 214.91h13.6M387.56 208.21v13.4M381.27 214.91h13.6M388.07 208.21v13.4M381.77 214.91h13.6M388.57 208.21v13.4M382.28 214.91h13.6M389.08 208.21v13.4M382.78 214.91h13.6M389.58 208.21v13.4M383.29 214.91h13.6M390.09 208.21v13.4M383.79 214.91h13.6M390.59 208.21v13.4M384.29 214.91h13.6M391.09 208.21v13.4M384.8 214.91h13.6M391.6 208.21v13.4M385.3 214.91h13.6M392.1 208.21v13.4M385.81 214.91h13.6M392.61 208.21v13.4M386.31 214.91h13.6M393.11 208.21v13.4M386.81 214.91h13.6M393.61 208.21v13.4M387.32 214.91h13.6M394.12 208.21v13.4M387.82 214.91h13.6M394.62 208.21v13.4M388.33 214.91h13.6M395.13 208.21v13.4M388.83 214.91h13.6M395.63 208.21v13.4M389.34 214.91h13.6M396.14 208.21v13.4M389.84 214.91h13.6M396.64 208.21v13.4M390.34 214.91h13.6M397.14 208.21v13.4M390.85 214.91h13.6M397.65 208.21v13.4M391.35 214.91h13.6M398.15 208.21v13.4M391.86 214.91h13.6M398.66 208.21v13.4M392.36 214.91h13.6M399.16 208.21v13.4M392.87 214.91h13.6M399.67 208.21v13.4M393.37 214.91h13.6M400.17 208.21v13.4M393.87 214.91h13.6M400.67 208.21v13.4M394.38 214.91h13.6M401.18 208.21v13.4M394.88 214.91h13.6M401.68 208.21v13.4M395.39 214.91h13.6M402.19 208.21v13.4M395.89 214.91h13.6M402.69 208.21v13.4M396.39 214.91h13.6M403.19 208.21v13.4M396.9 214.91h13.6M403.7 208.21v13.4M397.4 214.91h13.6M404.2 208.21v13.4M397.91 214.91h13.6M404.71 208.21v13.4M398.41 214.91h13.6M405.21 208.21v13.4M398.92 214.91h13.6M405.72 208.21v13.4M399.42 214.91h13.6M406.22 208.21v13.4M399.92 214.91h13.6M406.72 208.21v13.4M400.43 214.91h13.6M407.23 208.21v13.4M400.93 214.91h13.6M407.73 208.21v13.4M401.44 214.91h13.6M408.24 208.21v13.4M401.94 214.91h13.6M408.74 208.21v13.4M402.45 214.91h13.6M409.25 208.21v13.4M402.95 214.91h13.6M409.75 208.21v13.4M403.45 214.91h13.6M410.25 208.21v13.4M403.96 214.91h13.6M410.76 208.21v13.4M404.46 214.91h13.6M411.26 208.21v13.4M404.97 214.91h13.6M411.77 208.21v13.4M405.47 214.91h13.6M412.27 208.21v13.4M405.97 214.91h13.6M412.77 208.21v13.4M406.48 214.91h13.6M413.28 208.21v13.4M406.98 214.91h13.6M413.78 208.21v13.4M407.49 214.91h13.6M414.29 208.21v13.4M407.99 214.91h13.6M414.79 208.21v13.4M408.5 214.91h13.6M415.3 208.21v13.4M409 214.91h13.6M415.8 208.21v13.4M409.5 214.91h13.6M416.3 208.21v13.4M410.01 214.91h13.6M416.81 208.21v13.4M410.51 214.91h13.6M417.31 208.21v13.4M411.02 214.91h13.6M417.82 208.21v13.4M411.52 214.91h13.6M418.32 208.21v13.4M412.03 214.91h13.6M418.83 208.21v13.4M412.53 214.91h13.6M419.33 208.21v13.4M413.03 214.91h13.6M419.83 208.21v13.4M413.54 214.91h13.6M420.34 208.21v13.4M414.04 214.91h13.6M420.84 208.21v13.4M414.55 214.91h13.6M421.35 208.21v13.4M415.05 214.91h13.6M421.85 208.21v13.4M415.55 214.91h13.6M422.35 208.21v13.4M416.06 214.91h13.6M422.86 208.21v13.4M416.56 214.91h13.6M423.36 208.21v13.4M417.07 214.91h13.6M423.87 208.21v13.4M417.57 214.91h13.6M424.37 208.21v13.4M418.08 214.91h13.6M424.88 208.21v13.4M418.58 214.91h13.6M425.38 208.21v13.4M419.08 214.91h13.6M425.88 208.21v13.4M419.59 214.91h13.6M426.39 208.21v13.4M420.09 214.91h13.6M426.89 208.21v13.4M420.6 214.91h13.6M427.4 208.21v13.4M421.1 214.91h13.6M427.9 208.21v13.4M421.61 214.91h13.6M428.41 208.21v13.4M422.11 214.91h13.6M428.91 208.21v13.4M422.61 214.91h13.6M429.41 208.21v13.4M423.12 214.91h13.6M429.92 208.21v13.4M423.62 214.91h13.6M430.42 208.21v13.4M424.13 214.91h13.6M430.93 208.21v13.4M424.63 214.91h13.6M431.43 208.21v13.4M425.13 214.91h13.6M431.93 208.21v13.4M425.64 214.91h13.6M432.44 208.21v13.4M426.14 214.91h13.6M432.94 208.21v13.4M426.65 214.91h13.6M433.45 208.21v13.4M427.15 214.91h13.6M433.95 208.21v13.4M427.66 214.91h13.6M434.46 208.21v13.4M428.16 214.91h13.6M434.96 208.21v13.4M428.66 214.91h13.6M435.46 208.21v13.4M429.17 214.91h13.6M435.97 208.21v13.4M429.67 214.91h13.6M436.47 208.21v13.4M430.18 214.91h13.6M436.98 208.21v13.4M430.68 214.91h13.6M437.48 208.21v13.4M431.19 214.91h13.6M437.99 208.21v13.4M431.69 214.91h13.6M438.49 208.21v13.4M432.19 214.91h13.6M438.99 208.21v13.4M432.7 214.91h13.6M439.5 208.21v13.4M432.82 214.91h13.6M439.62 208.21v13.4" stroke="#00ff00" stroke-width="1.6" fill="none"/>
<path d="M263.87 93.57h13.6M270.67 86.87v13.4M264.01 95.97h13.6M270.81 89.27v13.4M264.16 98.37h13.6M270.96 91.67v13.4M264.31 100.77h13.6M271.11 94.07v13.4M264.46 103.17h13.6M271.26 96.47v13.4M264.62 105.57h13.6M271.42 98.87v13.4M264.78 107.97h13.6M271.58 101.27v13.4M264.94 110.37h13.6M271.74 103.67v13.4M265.1 112.77h13.6M271.9 106.07v13.4M265.28 115.17h13.6M272.08 108.47v13.4M265.45 117.57h13.6M272.25 110.87v13.4M265.63 119.97h13.6M272.43 113.27v13.4M265.81 122.37h13.6M272.61 115.67v13.4M266 124.77h13.6M272.8 118.07v13.4M266.19 127.17h13.6M272.99 120.47v13.4M266.39 129.57h13.6M273.19 122.87v13.4M266.6 131.97h13.6M273.4 125.27v13.4M266.81 134.37h13.6M273.61 127.67v13.4M267.02 136.77h13.6M273.82 130.07v13.4M267.25 139.17h13.6M274.05 132.47v13.4M267.48 141.57h13.6M274.28 134.87v13.4" stroke="#00ff00" stroke-width="2.0" fill="none"/>
<path d="M261.38 43.17h13.6M268.18 36.47v13.4M261.48 45.57h13.6M268.28 38.87v13.4M261.59 47.97h13.6M268.39 41.27v13.4M261.69 50.37h13.6M268.49 43.67v13.4M261.8 52.77h13.6M268.6 46.07v13.4M261.9 55.17h13.6M268.7 48.47v13.4M262.01 57.57h13.6M268.81 50.87v13.4M262.12 59.97h13.6M268.92 53.27v13.4M262.23 62.37h13.6M269.03 55.67v13.4M262.35 64.77h13.6M269.15 58.07v13.4M262.46 67.17h13.6M269.26 60.47v13.4M262.58 69.57h13.6M269.38 62.87v13.4M262.7 71.97h13.6M269.5 65.27v13.4M262.82 74.37h13.6M269.62 67.67v13.4M262.94 76.77h13.6M269.74 70.07v13.4M263.07 79.17h13.6M269.87 72.47v13.4M263.2 81.57h13.6M270 74.87v13.4M263.33 83.97h13.6M270.13 77.27v13.4M263.46 86.37h13.6M270.26 79.67v13.4M263.59 88.77h13.6M270.39 82.07v13.4M263.73 91.17h13.6M270.53 84.47v13.4" stroke="#00ff00" stroke-width="1.6" fill="none"/>
<path d="M268.18 43.17L268.69 54.85L269.19 65.74L269.7 75.88L270.2 85.33L270.71 94.15L271.21 102.36L271.71 110.01L272.22 117.14L272.72 123.79L273.23 129.99L273.73 135.76L274.23 141.14L274.74 146.16L275.24 150.84L275.75 155.19L276.25 159.25L276.76 163.04L277.26 166.56L277.76 169.85L278.27 172.92L278.77 175.77L279.28 178.43L279.78 180.91L280.29 183.23L280.79 185.38L281.29 187.39L281.8 189.26L282.3 191L282.81 192.63L283.31 194.14L283.81 195.56L284.32 196.87L284.82 198.1L285.33 199.24L285.83 200.31L286.34 201.3L286.84 202.23L287.34 203.09L287.85 203.89L288.35 204.64L288.86 205.34L289.36 205.99L289.87 206.6L290.37 207.16L290.87 207.69L291.38 208.18L291.88 208.64L292.39 209.06L292.89 209.46L293.39 209.83L293.9 210.18L294.4 210.5L294.91 210.8L295.41 211.08L295.92 211.34L296.42 211.58L296.92 211.81L297.43 212.02L297.93 212.22L298.44 212.4L298.94 212.57L299.45 212.73L299.95 212.88L300.45 213.01L300.96 213.14L301.46 213.26L301.97 213.38L302.47 213.48L302.97 213.58L303.48 213.67L303.98 213.75L304.49 213.83L304.99 213.9L305.5 213.97L306 214.04L306.5 214.1L307.01 214.15L307.51 214.2L308.02 214.25L308.52 214.3L309.03 214.34L309.53 214.38L310.03 214.41L310.54 214.45L311.04 214.48L311.55 214.51L312.05 214.53L312.55 214.56L313.06 214.58L313.56 214.61L314.07 214.63L314.57 214.65L315.08 214.66L315.58 214.68L316.08 214.7L316.59 214.71L317.09 214.72L317.6 214.74L318.1 214.75L318.61 214.76L319.11 214.77L319.61 214.78L320.12 214.79L320.62 214.8L321.13 214.8L321.63 214.81L322.13 214.82L322.64 214.82L323.14 214.83L323.65 214.83L324.15 214.84L324.66 214.84L325.16 214.85L325.66 214.85L326.17 214.86L326.67 214.86L327.18 214.86L327.68 214.87L328.19 214.87L328.69 214.87L329.19 214.87L329.7 214.88L330.2 214.88L330.71 214.88L331.21 214.88L331.71 214.89L332.22 214.89L332.72 214.89L333.23 214.89L333.73 214.89L334.24 214.89L334.74 214.89L335.24 214.89L335.75 214.9L336.25 214.9L336.76 214.9L337.26 214.9L337.77 214.9L338.27 214.9L338.77 214.9L339.28 214.9L339.78 214.9L340.29 214.9L340.79 214.9L341.29 214.9L341.8 214.9L342.3 214.9L342.81 214.9L343.31 214.9L343.82 214.9L344.32 214.9L344.82 214.91L345.33 214.91L345.83 214.91L346.34 214.91L346.84 214.91L347.35 214.91L347.85 214.91L348.35 214.91L348.86 214.91L349.36 214.91L349.87 214.91L350.37 214.91L350.87 214.91L351.38 214.91L351.88 214.91L352.39 214.91L352.89 214.91L353.4 214.91L353.9 214.91L354.4 214.91L354.91 214.91L355.41 214.91L355.92 214.91L356.42 214.91L356.93 214.91L357.43 214.91L357.93 214.91L358.44 214.91L358.94 214.91L359.45 214.91L359.95 214.91L360.45 214.91L360.96 214.91L361.46 214.91L361.97 214.91L362.47 214.91L362.98 214.91L363.48 214.91L363.98 214.91L364.49 214.91L364.99 214.91L365.5 214.91L366 214.91L366.51 214.91L367.01 214.91L367.51 214.91L368.02 214.91L368.52 214.91L369.03 214.91L369.53 214.91L370.03 214.91L370.54 214.91L371.04 214.91L371.55 214.91L372.05 214.91L372.56 214.91L373.06 214.91L373.56 214.91L374.07 214.91L374.57 214.91L375.08 214.91L375.58 214.91L376.09 214.91L376.59 214.91L377.09 214.91L377.6 214.91L378.1 214.91L378.61 214.91L379.11 214.91L379.61 214.91L380.12 214.91L380.62 214.91L381.13 214.91L381.63 214.91L382.14 214.91L382.64 214.91L383.14 214.91L383.65 214.91L384.15 214.91L384.66 214.91L385.16 214.91L385.67 214.91L386.17 214.91L386.67 214.91L387.18 214.91L387.68 214.91L388.19 214.91L388.69 214.91L389.19 214.91L389.7 214.91L390.2 214.91L390.71 214.91L391.21 214.91L391.72 214.91L392.22 214.91L392.72 214.91L393.23 214.91L393.73 214.91L394.24 214.91L394.74 214.91L395.25 214.91L395.75 214.91L396.25 214.91L396.76 214.91L397.26 214.91L397.77 214.91L398.27 214.91L398.77 214.91L399.28 214.91L399.78 214.91L400.29 214.91L400.79 214.91L401.3 214.91L401.8 214.91L402.3 214.91L402.81 214.91L403.31 214.91L403.82 214.91L404.32 214.91L404.83 214.91L405.33 214.91L405.83 214.91L406.34 214.91L406.84 214.91L407.35 214.91L407.85 214.91L408.35 214.91L408.86 214.91L409.36 214.91L409.87 214.91L410.37 214.91L410.88 214.91L411.38 214.91L411.88 214.91L412.39 214.91L412.89 214.91L413.4 214.91L413.9 214.91L414.41 214.91L414.91 214.91L415.41 214.91L415.92 214.91L416.42 214.91L416.93 214.91L417.43 214.91L417.93 214.91L418.44 214.91L418.94 214.91L419.45 214.91L419.95 214.91L420.46 214.91L420.96 214.91L421.46 214.91L421.97 214.91L422.47 214.91L422.98 214.91L423.48 214.91L423.99 214.91L424.49 214.91L424.99 214.91L425.5 214.91L426 214.91L426.51 214.91L427.01 214.91L427.51 214.91L428.02 214.91L428.52 214.91L429.03 214.91L429.53 214.91L430.04 214.91L430.54 214.91L431.04 214.91L431.55 214.91L432.05 214.91L432.56 214.91L433.06 214.91L433.57 214.91L434.07 214.91L434.57 214.91L435.08 214.91L435.58 214.91L436.09 214.91L436.59 214.91L437.09 214.91L437.6 214.91L438.1 214.91L438.61 214.91L439.11 214.91L439.62 214.91" stroke="#0000ff" stroke-width="1.9" fill="none" stroke-linejoin="round"/>
<g transform="translate(288.35,251.7) scale(1,1.03)"><text font-family="Liberation Serif" font-weight="bold" font-size="13" fill="#303030" stroke="#303030" stroke-width="0.25" text-anchor="middle">50</text></g>
<g transform="translate(338.77,251.7) scale(1,1.03)"><text font-family="Liberation Serif" font-weight="bold" font-size="13" fill="#303030" stroke="#303030" stroke-width="0.25" text-anchor="middle">100</text></g>
<g transform="translate(389.19,251.7) scale(1,1.03)"><text font-family="Liberation Serif" font-weight="bold" font-size="13" fill="#303030" stroke="#303030" stroke-width="0.25" text-anchor="middle">150</text></g>
<g transform="translate(439.62,251.7) scale(1,1.03)"><text font-family="Liberation Serif" font-weight="bold" font-size="13" fill="#303030" stroke="#303030" stroke-width="0.25" text-anchor="middle">200</text></g>
<g transform="translate(252.8,219.86) scale(1,1.03)"><text font-family="Liberation Serif" font-weight="bold" font-size="13" fill="#303030" stroke="#303030" stroke-width="0.25" text-anchor="end">0</text></g>
<g transform="translate(252.8,178.48) scale(1,1.03)"><text font-family="Liberation Serif" font-weight="bold" font-size="13" fill="#303030" stroke="#303030" stroke-width="0.25" text-anchor="end">1</text></g>
<g transform="translate(252.8,137.1) scale(1,1.03)"><text font-family="Liberation Serif" font-weight="bold" font-size="13" fill="#303030" stroke="#303030" stroke-width="0.25" text-anchor="end">2</text></g>
<g transform="translate(252.8,95.71) scale(1,1.03)"><text font-family="Liberation Serif" font-weight="bold" font-size="13" fill="#303030" stroke="#303030" stroke-width="0.25" text-anchor="end">3</text></g>
<g transform="translate(252.8,54.33) scale(1,1.03)"><text font-family="Liberation Serif" font-weight="bold" font-size="13" fill="#303030" stroke="#303030" stroke-width="0.25" text-anchor="end">4</text></g>
<g transform="translate(252.8,12.95) scale(1,1.03)"><text font-family="Liberation Serif" font-weight="bold" font-size="13" fill="#303030" stroke="#303030" stroke-width="0.25" text-anchor="end">5</text></g>
<g transform="translate(353.9,270.8) scale(1,1.05)"><text font-family="Liberation Serif" font-weight="bold" font-size="14.3" fill="#303030" stroke="#303030" stroke-width="0.25" text-anchor="middle">Altitude (km)</text></g>
<g transform="translate(241.6,120.3) scale(0.94,1) rotate(-90)"><text font-family="Liberation Serif" font-weight="bold" font-size="13.8" fill="#303030" stroke="#303030" stroke-width="0.25" text-anchor="middle"><tspan font-style="italic">N</tspan> (ppm)</text></g>
<rect x="290.5" y="16.6" width="150.3" height="58.6" fill="#fff" stroke="#8a8a8a" stroke-width="1.1"/>
<path d="M302.9 31.8h13.6M309.7 25.4v12.8" stroke="#00ff00" stroke-width="1.5" fill="none"/>
<path d="M296.5 59.9H323.5" stroke="#0000ff" stroke-width="2.1" fill="none"/>
<g transform="translate(326.9,29.1) scale(1,1.04)"><text font-family="Liberation Serif" font-weight="bold" font-size="11.7" fill="#000" stroke="#000" stroke-width="0.25" text-anchor="start">refractivity calculated</text></g>
<g transform="translate(335.5,42.4) scale(1,1.04)"><text font-family="Liberation Serif" font-weight="bold" font-size="11.7" fill="#000" stroke="#000" stroke-width="0.25" text-anchor="start">by NRLMSIS 2.0.</text></g>
<g transform="translate(332.3,55.7) scale(1,1.04)"><text font-family="Liberation Serif" font-weight="bold" font-size="11.7" fill="#000" stroke="#000" stroke-width="0.25" text-anchor="start">e-index model of</text></g>
<g transform="translate(347.4,69.8) scale(1,1.04)"><text font-family="Liberation Serif" font-weight="bold" font-size="11.7" fill="#000" stroke="#000" stroke-width="0.25" text-anchor="start">refractivity.</text></g>
<g transform="translate(424.9,134.6) scale(1,0.95)"><text font-family="Liberation Serif" font-weight="bold" font-size="22" fill="#000" stroke="#000" stroke-width="0.25" text-anchor="middle">(b)</text></g>
<path d="M502 8V235.6M557.47 8V235.6M612.94 8V235.6M668.41 8V235.6M502 222.21H679.5M502 195.44H679.5M502 168.66H679.5M502 141.88H679.5M502 115.11H679.5M502 88.33H679.5M502 61.55H679.5M502 34.78H679.5M502 8H679.5" stroke="#e4e4e4" stroke-width="0.7" fill="none"/>
<path d="M502 235.6v-2.3M502 8v2.3M557.47 235.6v-2.3M557.47 8v2.3M612.94 235.6v-2.3M612.94 8v2.3M668.41 235.6v-2.3M668.41 8v2.3M502 222.21h2.3M679.5 222.21h-2.3M502 195.44h2.3M679.5 195.44h-2.3M502 168.66h2.3M679.5 168.66h-2.3M502 141.88h2.3M679.5 141.88h-2.3M502 115.11h2.3M679.5 115.11h-2.3M502 88.33h2.3M679.5 88.33h-2.3M502 61.55h2.3M679.5 61.55h-2.3M502 34.78h2.3M679.5 34.78h-2.3M502 8h2.3M679.5 8h-2.3" stroke="#8a8a8a" stroke-width="1.1" fill="none"/>
<rect x="502" y="8" width="177.5" height="227.6" stroke="#8a8a8a" stroke-width="1.1" fill="none"/>
<path d="M511.2 122.4h13.6M518 115.7v13.4M511.31 123.84h13.6M518.11 117.14v13.4M511.42 125.26h13.6M518.22 118.56v13.4M511.53 126.66h13.6M518.33 119.96v13.4M511.64 128.04h13.6M518.44 121.34v13.4M511.75 129.4h13.6M518.55 122.7v13.4M511.86 130.75h13.6M518.66 124.05v13.4M511.97 132.07h13.6M518.77 125.37v13.4M512.08 133.37h13.6M518.88 126.67v13.4M512.19 134.65h13.6M518.99 127.95v13.4M512.3 135.92h13.6M519.1 129.22v13.4M512.42 137.17h13.6M519.22 130.47v13.4M512.53 138.4h13.6M519.33 131.7v13.4M512.64 139.61h13.6M519.44 132.91v13.4M512.75 140.8h13.6M519.55 134.1v13.4M512.86 141.98h13.6M519.66 135.28v13.4M512.97 143.14h13.6M519.77 136.44v13.4M513.08 144.28h13.6M519.88 137.58v13.4M513.19 145.41h13.6M519.99 138.71v13.4M513.3 146.52h13.6M520.1 139.82v13.4M513.41 147.62h13.6M520.21 140.92v13.4M513.52 148.7h13.6M520.32 142v13.4M513.64 149.76h13.6M520.44 143.06v13.4M513.75 150.81h13.6M520.55 144.11v13.4M513.86 151.84h13.6M520.66 145.14v13.4M513.97 152.86h13.6M520.77 146.16v13.4M514.08 153.86h13.6M520.88 147.16v13.4M514.19 154.85h13.6M520.99 148.15v13.4M514.3 155.83h13.6M521.1 149.13v13.4M514.41 156.79h13.6M521.21 150.09v13.4M514.52 157.73h13.6M521.32 151.03v13.4M514.63 158.67h13.6M521.43 151.97v13.4M514.75 159.59h13.6M521.55 152.89v13.4M514.86 160.49h13.6M521.66 153.79v13.4M514.97 161.39h13.6M521.77 154.69v13.4M515.08 162.27h13.6M521.88 155.57v13.4M515.19 163.14h13.6M521.99 156.44v13.4M515.3 163.99h13.6M522.1 157.29v13.4M515.41 164.84h13.6M522.21 158.14v13.4M515.52 165.67h13.6M522.32 158.97v13.4M515.63 166.49h13.6M522.43 159.79v13.4M515.74 167.29h13.6M522.54 160.59v13.4M515.85 168.09h13.6M522.65 161.39v13.4M515.97 168.88h13.6M522.77 162.18v13.4M516.08 169.65h13.6M522.88 162.95v13.4M516.19 170.41h13.6M522.99 163.71v13.4M516.3 171.16h13.6M523.1 164.46v13.4M516.41 171.9h13.6M523.21 165.2v13.4M516.52 172.63h13.6M523.32 165.93v13.4M516.63 173.35h13.6M523.43 166.65v13.4M516.74 174.06h13.6M523.54 167.36v13.4M516.85 174.76h13.6M523.65 168.06v13.4M516.96 175.45h13.6M523.76 168.75v13.4M517.07 176.12h13.6M523.87 169.42v13.4M517.19 176.79h13.6M523.99 170.09v13.4M517.3 177.45h13.6M524.1 170.75v13.4M517.41 178.1h13.6M524.21 171.4v13.4M517.52 178.74h13.6M524.32 172.04v13.4M517.63 179.37h13.6M524.43 172.67v13.4M517.74 180h13.6M524.54 173.3v13.4M517.85 180.61h13.6M524.65 173.91v13.4M517.96 181.21h13.6M524.76 174.51v13.4M518.07 181.81h13.6M524.87 175.11v13.4M518.18 182.4h13.6M524.98 175.7v13.4M518.3 182.98h13.6M525.1 176.28v13.4M518.41 183.55h13.6M525.21 176.85v13.4M518.52 184.11h13.6M525.32 177.41v13.4M518.63 184.66h13.6M525.43 177.96v13.4M518.74 185.21h13.6M525.54 178.51v13.4M518.85 185.75h13.6M525.65 179.05v13.4M518.96 186.28h13.6M525.76 179.58v13.4M519.07 186.8h13.6M525.87 180.1v13.4M519.18 187.31h13.6M525.98 180.61v13.4M519.29 187.82h13.6M526.09 181.12v13.4M519.4 188.32h13.6M526.2 181.62v13.4M519.52 188.82h13.6M526.32 182.12v13.4M519.63 189.3h13.6M526.43 182.6v13.4M519.74 189.78h13.6M526.54 183.08v13.4M519.85 190.25h13.6M526.65 183.55v13.4M519.96 190.72h13.6M526.76 184.02v13.4M520.07 191.18h13.6M526.87 184.48v13.4M520.18 191.63h13.6M526.98 184.93v13.4M520.29 192.08h13.6M527.09 185.38v13.4M520.4 192.52h13.6M527.2 185.82v13.4M520.51 192.95h13.6M527.31 186.25v13.4M520.62 193.38h13.6M527.42 186.68v13.4M520.74 193.8h13.6M527.54 187.1v13.4M520.85 194.21h13.6M527.65 187.51v13.4M520.96 194.62h13.6M527.76 187.92v13.4M521.07 195.02h13.6M527.87 188.32v13.4M521.18 195.42h13.6M527.98 188.72v13.4M521.29 195.81h13.6M528.09 189.11v13.4M521.4 196.2h13.6M528.2 189.5v13.4M521.51 196.58h13.6M528.31 189.88v13.4M521.62 196.95h13.6M528.42 190.25v13.4M521.73 197.32h13.6M528.53 190.62v13.4M521.85 197.68h13.6M528.65 190.98v13.4M521.96 198.04h13.6M528.76 191.34v13.4M522.07 198.4h13.6M528.87 191.7v13.4M522.18 198.74h13.6M528.98 192.04v13.4M522.29 199.09h13.6M529.09 192.39v13.4M522.4 199.43h13.6M529.2 192.73v13.4M522.51 199.76h13.6M529.31 193.06v13.4M522.62 200.09h13.6M529.42 193.39v13.4M522.73 200.41h13.6M529.53 193.71v13.4M522.84 200.73h13.6M529.64 194.03v13.4M522.95 201.05h13.6M529.75 194.35v13.4M523.07 201.36h13.6M529.87 194.66v13.4M523.18 201.66h13.6M529.98 194.96v13.4M523.29 201.96h13.6M530.09 195.26v13.4M523.4 202.26h13.6M530.2 195.56v13.4M523.51 202.55h13.6M530.31 195.85v13.4M523.62 202.84h13.6M530.42 196.14v13.4M523.73 203.13h13.6M530.53 196.43v13.4M523.84 203.41h13.6M530.64 196.71v13.4M523.95 203.68h13.6M530.75 196.98v13.4M524.06 203.96h13.6M530.86 197.26v13.4M524.17 204.22h13.6M530.97 197.52v13.4M524.29 204.49h13.6M531.09 197.79v13.4M524.4 204.75h13.6M531.2 198.05v13.4M524.51 205.01h13.6M531.31 198.31v13.4M524.62 205.26h13.6M531.42 198.56v13.4M524.73 205.51h13.6M531.53 198.81v13.4M524.84 205.76h13.6M531.64 199.06v13.4M524.95 206h13.6M531.75 199.3v13.4M525.06 206.24h13.6M531.86 199.54v13.4M525.17 206.47h13.6M531.97 199.77v13.4M525.28 206.71h13.6M532.08 200.01v13.4M525.4 206.93h13.6M532.2 200.23v13.4M525.51 207.16h13.6M532.31 200.46v13.4M525.62 207.38h13.6M532.42 200.68v13.4M525.73 207.6h13.6M532.53 200.9v13.4M525.84 207.82h13.6M532.64 201.12v13.4M525.95 208.03h13.6M532.75 201.33v13.4M526.06 208.24h13.6M532.86 201.54v13.4M526.17 208.45h13.6M532.97 201.75v13.4M526.28 208.65h13.6M533.08 201.95v13.4M526.39 208.85h13.6M533.19 202.15v13.4M526.5 209.05h13.6M533.3 202.35v13.4M526.62 209.24h13.6M533.42 202.54v13.4M526.73 209.44h13.6M533.53 202.74v13.4M526.84 209.63h13.6M533.64 202.93v13.4M526.95 209.81h13.6M533.75 203.11v13.4M527.06 210h13.6M533.86 203.3v13.4M527.17 210.18h13.6M533.97 203.48v13.4M527.28 210.36h13.6M534.08 203.66v13.4M527.39 210.53h13.6M534.19 203.83v13.4M527.5 210.71h13.6M534.3 204.01v13.4M527.61 210.88h13.6M534.41 204.18v13.4M527.72 211.05h13.6M534.52 204.35v13.4M527.84 211.21h13.6M534.64 204.51v13.4M527.95 211.38h13.6M534.75 204.68v13.4M528.06 211.54h13.6M534.86 204.84v13.4M528.17 211.7h13.6M534.97 205v13.4M528.28 211.86h13.6M535.08 205.16v13.4M528.39 212.01h13.6M535.19 205.31v13.4M528.5 212.16h13.6M535.3 205.46v13.4M528.61 212.31h13.6M535.41 205.61v13.4M528.72 212.46h13.6M535.52 205.76v13.4M528.83 212.61h13.6M535.63 205.91v13.4M529.39 213.31h13.6M536.19 206.61v13.4M529.94 213.96h13.6M536.74 207.26v13.4M530.5 214.56h13.6M537.3 207.86v13.4M531.05 215.13h13.6M537.85 208.43v13.4M531.61 215.65h13.6M538.41 208.95v13.4M532.16 216.14h13.6M538.96 209.44v13.4M532.72 216.59h13.6M539.52 209.89v13.4M533.27 217.01h13.6M540.07 210.31v13.4M533.83 217.4h13.6M540.63 210.7v13.4M534.38 217.77h13.6M541.18 211.07v13.4M534.94 218.1h13.6M541.74 211.4v13.4M535.49 218.42h13.6M542.29 211.72v13.4M536.05 218.71h13.6M542.85 212.01v13.4M536.6 218.98h13.6M543.4 212.28v13.4M537.15 219.24h13.6M543.95 212.54v13.4M537.71 219.47h13.6M544.51 212.77v13.4M538.26 219.69h13.6M545.06 212.99v13.4M538.82 219.9h13.6M545.62 213.2v13.4M539.37 220.09h13.6M546.17 213.39v13.4M539.93 220.26h13.6M546.73 213.56v13.4M540.48 220.43h13.6M547.28 213.73v13.4M541.04 220.58h13.6M547.84 213.88v13.4M541.59 220.72h13.6M548.39 214.02v13.4M542.15 220.85h13.6M548.95 214.15v13.4M542.7 220.98h13.6M549.5 214.28v13.4M543.26 221.09h13.6M550.06 214.39v13.4M543.81 221.2h13.6M550.61 214.5v13.4M544.37 221.3h13.6M551.17 214.6v13.4M544.92 221.39h13.6M551.72 214.69v13.4M545.47 221.47h13.6M552.27 214.77v13.4M546.03 221.55h13.6M552.83 214.85v13.4M546.58 221.63h13.6M553.38 214.93v13.4M547.14 221.7h13.6M553.94 215v13.4M547.69 221.76h13.6M554.49 215.06v13.4M548.25 221.82h13.6M555.05 215.12v13.4M548.8 221.88h13.6M555.6 215.18v13.4M549.36 221.93h13.6M556.16 215.23v13.4M549.91 221.97h13.6M556.71 215.27v13.4M550.47 222.02h13.6M557.27 215.32v13.4M551.02 222.06h13.6M557.82 215.36v13.4M551.58 222.1h13.6M558.38 215.4v13.4M552.13 222.13h13.6M558.93 215.43v13.4M552.69 222.17h13.6M559.49 215.47v13.4M553.24 222.2h13.6M560.04 215.5v13.4M553.8 222.23h13.6M560.6 215.53v13.4M554.35 222.25h13.6M561.15 215.55v13.4M554.9 222.28h13.6M561.7 215.58v13.4M555.46 222.3h13.6M562.26 215.6v13.4M556.01 222.32h13.6M562.81 215.62v13.4M556.57 222.34h13.6M563.37 215.64v13.4M557.12 222.36h13.6M563.92 215.66v13.4M557.68 222.38h13.6M564.48 215.68v13.4M558.23 222.4h13.6M565.03 215.7v13.4M558.79 222.41h13.6M565.59 215.71v13.4M559.34 222.43h13.6M566.14 215.73v13.4M559.9 222.44h13.6M566.7 215.74v13.4M560.45 222.45h13.6M567.25 215.75v13.4M561.01 222.46h13.6M567.81 215.76v13.4M561.56 222.47h13.6M568.36 215.77v13.4M562.12 222.48h13.6M568.92 215.78v13.4M562.67 222.49h13.6M569.47 215.79v13.4M563.22 222.5h13.6M570.02 215.8v13.4M563.78 222.51h13.6M570.58 215.81v13.4M564.33 222.51h13.6M571.13 215.81v13.4M564.89 222.52h13.6M571.69 215.82v13.4M565.44 222.53h13.6M572.24 215.83v13.4M566 222.53h13.6M572.8 215.83v13.4M566.55 222.54h13.6M573.35 215.84v13.4M567.11 222.54h13.6M573.91 215.84v13.4M567.66 222.55h13.6M574.46 215.85v13.4M568.22 222.55h13.6M575.02 215.85v13.4M568.77 222.56h13.6M575.57 215.86v13.4M569.33 222.56h13.6M576.13 215.86v13.4M569.88 222.56h13.6M576.68 215.86v13.4M570.44 222.57h13.6M577.24 215.87v13.4M570.99 222.57h13.6M577.79 215.87v13.4M571.55 222.57h13.6M578.35 215.87v13.4M572.1 222.58h13.6M578.9 215.88v13.4M572.65 222.58h13.6M579.45 215.88v13.4M573.21 222.58h13.6M580.01 215.88v13.4M573.76 222.58h13.6M580.56 215.88v13.4M574.32 222.59h13.6M581.12 215.89v13.4M574.87 222.59h13.6M581.67 215.89v13.4M575.43 222.59h13.6M582.23 215.89v13.4M575.98 222.59h13.6M582.78 215.89v13.4M576.54 222.59h13.6M583.34 215.89v13.4M577.09 222.59h13.6M583.89 215.89v13.4M577.65 222.59h13.6M584.45 215.89v13.4M578.2 222.6h13.6M585 215.9v13.4M578.76 222.6h13.6M585.56 215.9v13.4M579.31 222.6h13.6M586.11 215.9v13.4M579.87 222.6h13.6M586.67 215.9v13.4M580.42 222.6h13.6M587.22 215.9v13.4M580.97 222.6h13.6M587.77 215.9v13.4M581.53 222.6h13.6M588.33 215.9v13.4M582.08 222.6h13.6M588.88 215.9v13.4M582.64 222.6h13.6M589.44 215.9v13.4M583.19 222.6h13.6M589.99 215.9v13.4M583.75 222.6h13.6M590.55 215.9v13.4M584.3 222.6h13.6M591.1 215.9v13.4M584.86 222.61h13.6M591.66 215.91v13.4M585.41 222.61h13.6M592.21 215.91v13.4M585.97 222.61h13.6M592.77 215.91v13.4M586.52 222.61h13.6M593.32 215.91v13.4M587.08 222.61h13.6M593.88 215.91v13.4M587.63 222.61h13.6M594.43 215.91v13.4M588.19 222.61h13.6M594.99 215.91v13.4M588.74 222.61h13.6M595.54 215.91v13.4M589.3 222.61h13.6M596.1 215.91v13.4M589.85 222.61h13.6M596.65 215.91v13.4M590.4 222.61h13.6M597.2 215.91v13.4M590.96 222.61h13.6M597.76 215.91v13.4M591.51 222.61h13.6M598.31 215.91v13.4M592.07 222.61h13.6M598.87 215.91v13.4M592.62 222.61h13.6M599.42 215.91v13.4M593.18 222.61h13.6M599.98 215.91v13.4M593.73 222.61h13.6M600.53 215.91v13.4M594.29 222.61h13.6M601.09 215.91v13.4M594.84 222.61h13.6M601.64 215.91v13.4M595.4 222.61h13.6M602.2 215.91v13.4M595.95 222.61h13.6M602.75 215.91v13.4M596.51 222.61h13.6M603.31 215.91v13.4M597.06 222.61h13.6M603.86 215.91v13.4M597.62 222.61h13.6M604.42 215.91v13.4M598.17 222.61h13.6M604.97 215.91v13.4M598.72 222.61h13.6M605.52 215.91v13.4M599.28 222.61h13.6M606.08 215.91v13.4M599.83 222.61h13.6M606.63 215.91v13.4M600.39 222.61h13.6M607.19 215.91v13.4M600.94 222.61h13.6M607.74 215.91v13.4M601.5 222.61h13.6M608.3 215.91v13.4M602.05 222.61h13.6M608.85 215.91v13.4M602.61 222.61h13.6M609.41 215.91v13.4M603.16 222.61h13.6M609.96 215.91v13.4M603.72 222.61h13.6M610.52 215.91v13.4M604.27 222.61h13.6M611.07 215.91v13.4M604.83 222.61h13.6M611.63 215.91v13.4M605.38 222.61h13.6M612.18 215.91v13.4M605.94 222.61h13.6M612.74 215.91v13.4M606.49 222.61h13.6M613.29 215.91v13.4M607.05 222.61h13.6M613.85 215.91v13.4M607.6 222.61h13.6M614.4 215.91v13.4M608.15 222.61h13.6M614.95 215.91v13.4M608.71 222.61h13.6M615.51 215.91v13.4M609.26 222.61h13.6M616.06 215.91v13.4M609.82 222.61h13.6M616.62 215.91v13.4M610.37 222.61h13.6M617.17 215.91v13.4M610.93 222.61h13.6M617.73 215.91v13.4M611.48 222.61h13.6M618.28 215.91v13.4M612.04 222.61h13.6M618.84 215.91v13.4M612.59 222.61h13.6M619.39 215.91v13.4M613.15 222.61h13.6M619.95 215.91v13.4M613.7 222.61h13.6M620.5 215.91v13.4M614.26 222.61h13.6M621.06 215.91v13.4M614.81 222.61h13.6M621.61 215.91v13.4M615.37 222.61h13.6M622.17 215.91v13.4M615.92 222.61h13.6M622.72 215.91v13.4M616.47 222.61h13.6M623.27 215.91v13.4M617.03 222.61h13.6M623.83 215.91v13.4M617.58 222.61h13.6M624.38 215.91v13.4M618.14 222.61h13.6M624.94 215.91v13.4M618.69 222.61h13.6M625.49 215.91v13.4M619.25 222.61h13.6M626.05 215.91v13.4M619.8 222.61h13.6M626.6 215.91v13.4M620.36 222.61h13.6M627.16 215.91v13.4M620.91 222.61h13.6M627.71 215.91v13.4M621.47 222.61h13.6M628.27 215.91v13.4M622.02 222.61h13.6M628.82 215.91v13.4M622.58 222.61h13.6M629.38 215.91v13.4M623.13 222.61h13.6M629.93 215.91v13.4M623.69 222.61h13.6M630.49 215.91v13.4M624.24 222.61h13.6M631.04 215.91v13.4M624.8 222.61h13.6M631.6 215.91v13.4M625.35 222.61h13.6M632.15 215.91v13.4M625.9 222.61h13.6M632.7 215.91v13.4M626.46 222.61h13.6M633.26 215.91v13.4M627.01 222.61h13.6M633.81 215.91v13.4M627.57 222.61h13.6M634.37 215.91v13.4M628.12 222.61h13.6M634.92 215.91v13.4M628.68 222.61h13.6M635.48 215.91v13.4M629.23 222.61h13.6M636.03 215.91v13.4M629.79 222.61h13.6M636.59 215.91v13.4M630.34 222.61h13.6M637.14 215.91v13.4M630.9 222.61h13.6M637.7 215.91v13.4M631.45 222.61h13.6M638.25 215.91v13.4M632.01 222.61h13.6M638.81 215.91v13.4M632.56 222.61h13.6M639.36 215.91v13.4M633.12 222.61h13.6M639.92 215.91v13.4M633.67 222.61h13.6M640.47 215.91v13.4M634.22 222.61h13.6M641.02 215.91v13.4M634.78 222.61h13.6M641.58 215.91v13.4M635.33 222.61h13.6M642.13 215.91v13.4M635.89 222.61h13.6M642.69 215.91v13.4M636.44 222.61h13.6M643.24 215.91v13.4M637 222.61h13.6M643.8 215.91v13.4M637.55 222.61h13.6M644.35 215.91v13.4M638.11 222.61h13.6M644.91 215.91v13.4M638.66 222.61h13.6M645.46 215.91v13.4M639.22 222.61h13.6M646.02 215.91v13.4M639.77 222.61h13.6M646.57 215.91v13.4M640.33 222.61h13.6M647.13 215.91v13.4M640.88 222.61h13.6M647.68 215.91v13.4M641.44 222.61h13.6M648.24 215.91v13.4M641.99 222.61h13.6M648.79 215.91v13.4M642.55 222.61h13.6M649.35 215.91v13.4M643.1 222.61h13.6M649.9 215.91v13.4M643.65 222.61h13.6M650.45 215.91v13.4M644.21 222.61h13.6M651.01 215.91v13.4M644.76 222.61h13.6M651.56 215.91v13.4M645.32 222.61h13.6M652.12 215.91v13.4M645.87 222.61h13.6M652.67 215.91v13.4M646.43 222.61h13.6M653.23 215.91v13.4M646.98 222.61h13.6M653.78 215.91v13.4M647.54 222.61h13.6M654.34 215.91v13.4M648.09 222.61h13.6M654.89 215.91v13.4M648.65 222.61h13.6M655.45 215.91v13.4M649.2 222.61h13.6M656 215.91v13.4M649.76 222.61h13.6M656.56 215.91v13.4M650.31 222.61h13.6M657.11 215.91v13.4M650.87 222.61h13.6M657.67 215.91v13.4M651.42 222.61h13.6M658.22 215.91v13.4M651.97 222.61h13.6M658.77 215.91v13.4M652.53 222.61h13.6M659.33 215.91v13.4M653.08 222.61h13.6M659.88 215.91v13.4M653.64 222.61h13.6M660.44 215.91v13.4M654.19 222.61h13.6M660.99 215.91v13.4M654.75 222.61h13.6M661.55 215.91v13.4M655.3 222.61h13.6M662.1 215.91v13.4M655.86 222.61h13.6M662.66 215.91v13.4M656.41 222.61h13.6M663.21 215.91v13.4M656.97 222.61h13.6M663.77 215.91v13.4M657.52 222.61h13.6M664.32 215.91v13.4M658.08 222.61h13.6M664.88 215.91v13.4M658.63 222.61h13.6M665.43 215.91v13.4M659.19 222.61h13.6M665.99 215.91v13.4M659.74 222.61h13.6M666.54 215.91v13.4M660.3 222.61h13.6M667.1 215.91v13.4M660.85 222.61h13.6M667.65 215.91v13.4M661.4 222.61h13.6M668.2 215.91v13.4M661.61 222.61h13.6M668.41 215.91v13.4" stroke="#00ffff" stroke-width="1.6" fill="none"/>
<path d="M508.92 87.7h13.6M515.72 81v13.4M509.06 90.1h13.6M515.86 83.4v13.4M509.2 92.5h13.6M516 85.8v13.4M509.34 94.9h13.6M516.14 88.2v13.4M509.48 97.3h13.6M516.28 90.6v13.4M509.63 99.7h13.6M516.43 93v13.4M509.78 102.1h13.6M516.58 95.4v13.4M509.94 104.5h13.6M516.74 97.8v13.4M510.09 106.9h13.6M516.89 100.2v13.4M510.25 109.3h13.6M517.05 102.6v13.4M510.42 111.7h13.6M517.22 105v13.4M510.59 114.1h13.6M517.39 107.4v13.4M510.76 116.5h13.6M517.56 109.8v13.4M510.93 118.9h13.6M517.73 112.2v13.4M511.11 121.3h13.6M517.91 114.6v13.4" stroke="#00ffff" stroke-width="2.0" fill="none"/>
<path d="M506.29 32.5h13.6M513.09 25.8v13.4M506.39 34.9h13.6M513.19 28.2v13.4M506.49 37.3h13.6M513.29 30.6v13.4M506.59 39.7h13.6M513.39 33v13.4M506.69 42.1h13.6M513.49 35.4v13.4M506.79 44.5h13.6M513.59 37.8v13.4M506.9 46.9h13.6M513.7 40.2v13.4M507 49.3h13.6M513.8 42.6v13.4M507.11 51.7h13.6M513.91 45v13.4M507.22 54.1h13.6M514.02 47.4v13.4M507.33 56.5h13.6M514.13 49.8v13.4M507.44 58.9h13.6M514.24 52.2v13.4M507.55 61.3h13.6M514.35 54.6v13.4M507.67 63.7h13.6M514.47 57v13.4M507.78 66.1h13.6M514.58 59.4v13.4M507.9 68.5h13.6M514.7 61.8v13.4M508.02 70.9h13.6M514.82 64.2v13.4M508.14 73.3h13.6M514.94 66.6v13.4M508.27 75.7h13.6M515.07 69v13.4M508.39 78.1h13.6M515.19 71.4v13.4M508.52 80.5h13.6M515.32 73.8v13.4M508.65 82.9h13.6M515.45 76.2v13.4M508.78 85.3h13.6M515.58 78.6v13.4" stroke="#00ffff" stroke-width="1.6" fill="none"/>
<path d="M513.09 32.1L513.65 45.39L514.2 57.75L514.76 69.24L515.31 79.94L515.87 89.88L516.42 99.13L516.98 107.73L517.53 115.74L518.09 123.18L518.64 130.1L519.2 136.54L519.75 142.53L520.3 148.1L520.86 153.28L521.41 158.1L521.97 162.58L522.52 166.75L523.08 170.62L523.63 174.23L524.19 177.58L524.74 180.7L525.3 183.61L525.85 186.3L526.41 188.81L526.96 191.15L527.52 193.32L528.07 195.34L528.62 197.22L529.18 198.96L529.73 200.59L530.29 202.1L530.84 203.51L531.4 204.81L531.95 206.03L532.51 207.16L533.06 208.21L533.62 209.19L534.17 210.1L534.73 210.95L535.28 211.74L535.84 212.47L536.39 213.15L536.95 213.78L537.5 214.37L538.05 214.92L538.61 215.43L539.16 215.9L539.72 216.34L540.27 216.75L540.83 217.14L541.38 217.49L541.94 217.82L542.49 218.13L543.05 218.41L543.6 218.68L544.16 218.93L544.71 219.16L545.27 219.37L545.82 219.57L546.38 219.75L546.93 219.92L547.48 220.08L548.04 220.23L548.59 220.37L549.15 220.5L549.7 220.62L550.26 220.73L550.81 220.83L551.37 220.93L551.92 221.02L552.48 221.1L553.03 221.18L553.59 221.25L554.14 221.32L554.7 221.38L555.25 221.44L555.8 221.49L556.36 221.54L556.91 221.59L557.47 221.63L558.02 221.67L558.58 221.71L559.13 221.75L559.69 221.78L560.24 221.81L560.8 221.84L561.35 221.86L561.91 221.89L562.46 221.91L563.02 221.93L563.57 221.95L564.12 221.97L564.68 221.99L565.23 222L565.79 222.02L566.34 222.03L566.9 222.04L567.45 222.06L568.01 222.07L568.56 222.08L569.12 222.09L569.67 222.09L570.23 222.1L570.78 222.11L571.34 222.12L571.89 222.12L572.45 222.13L573 222.14L573.55 222.14L574.11 222.15L574.66 222.15L575.22 222.15L575.77 222.16L576.33 222.16L576.88 222.17L577.44 222.17L577.99 222.17L578.55 222.17L579.1 222.18L579.66 222.18L580.21 222.18L580.77 222.18L581.32 222.19L581.88 222.19L582.43 222.19L582.98 222.19L583.54 222.19L584.09 222.19L584.65 222.2L585.2 222.2L585.76 222.2L586.31 222.2L586.87 222.2L587.42 222.2L587.98 222.2L588.53 222.2L589.09 222.2L589.64 222.2L590.2 222.2L590.75 222.2L591.3 222.2L591.86 222.21L592.41 222.21L592.97 222.21L593.52 222.21L594.08 222.21L594.63 222.21L595.19 222.21L595.74 222.21L596.3 222.21L596.85 222.21L597.41 222.21L597.96 222.21L598.52 222.21L599.07 222.21L599.62 222.21L600.18 222.21L600.73 222.21L601.29 222.21L601.84 222.21L602.4 222.21L602.95 222.21L603.51 222.21L604.06 222.21L604.62 222.21L605.17 222.21L605.73 222.21L606.28 222.21L606.84 222.21L607.39 222.21L607.95 222.21L608.5 222.21L609.05 222.21L609.61 222.21L610.16 222.21L610.72 222.21L611.27 222.21L611.83 222.21L612.38 222.21L612.94 222.21L613.49 222.21L614.05 222.21L614.6 222.21L615.16 222.21L615.71 222.21L616.27 222.21L616.82 222.21L617.38 222.21L617.93 222.21L618.48 222.21L619.04 222.21L619.59 222.21L620.15 222.21L620.7 222.21L621.26 222.21L621.81 222.21L622.37 222.21L622.92 222.21L623.48 222.21L624.03 222.21L624.59 222.21L625.14 222.21L625.7 222.21L626.25 222.21L626.8 222.21L627.36 222.21L627.91 222.21L628.47 222.21L629.02 222.21L629.58 222.21L630.13 222.21L630.69 222.21L631.24 222.21L631.8 222.21L632.35 222.21L632.91 222.21L633.46 222.21L634.02 222.21L634.57 222.21L635.12 222.21L635.68 222.21L636.23 222.21L636.79 222.21L637.34 222.21L637.9 222.21L638.45 222.21L639.01 222.21L639.56 222.21L640.12 222.21L640.67 222.21L641.23 222.21L641.78 222.21L642.34 222.21L642.89 222.21L643.45 222.21L644 222.21L644.55 222.21L645.11 222.21L645.66 222.21L646.22 222.21L646.77 222.21L647.33 222.21L647.88 222.21L648.44 222.21L648.99 222.21L649.55 222.21L650.1 222.21L650.66 222.21L651.21 222.21L651.77 222.21L652.32 222.21L652.88 222.21L653.43 222.21L653.98 222.21L654.54 222.21L655.09 222.21L655.65 222.21L656.2 222.21L656.76 222.21L657.31 222.21L657.87 222.21L658.42 222.21L658.98 222.21L659.53 222.21L660.09 222.21L660.64 222.21L661.2 222.21L661.75 222.21L662.3 222.21L662.86 222.21L663.41 222.21L663.97 222.21L664.52 222.21L665.08 222.21L665.63 222.21L666.19 222.21L666.74 222.21L667.3 222.21L667.85 222.21L668.41 222.21" stroke="#0000ff" stroke-width="1.9" fill="none" stroke-linejoin="round"/>
<g transform="translate(502,251.7) scale(1,1.03)"><text font-family="Liberation Serif" font-weight="bold" font-size="13" fill="#303030" stroke="#303030" stroke-width="0.25" text-anchor="middle">50</text></g>
<g transform="translate(557.47,251.7) scale(1,1.03)"><text font-family="Liberation Serif" font-weight="bold" font-size="13" fill="#303030" stroke="#303030" stroke-width="0.25" text-anchor="middle">100</text></g>
<g transform="translate(612.94,251.7) scale(1,1.03)"><text font-family="Liberation Serif" font-weight="bold" font-size="13" fill="#303030" stroke="#303030" stroke-width="0.25" text-anchor="middle">150</text></g>
<g transform="translate(668.41,251.7) scale(1,1.03)"><text font-family="Liberation Serif" font-weight="bold" font-size="13" fill="#303030" stroke="#303030" stroke-width="0.25" text-anchor="middle">200</text></g>
<g transform="translate(496.7,227.16) scale(1,1.03)"><text font-family="Liberation Serif" font-weight="bold" font-size="13" fill="#303030" stroke="#303030" stroke-width="0.25" text-anchor="end">0</text></g>
<g transform="translate(496.7,200.39) scale(1,1.03)"><text font-family="Liberation Serif" font-weight="bold" font-size="13" fill="#303030" stroke="#303030" stroke-width="0.25" text-anchor="end">0.01</text></g>
<g transform="translate(496.7,173.61) scale(1,1.03)"><text font-family="Liberation Serif" font-weight="bold" font-size="13" fill="#303030" stroke="#303030" stroke-width="0.25" text-anchor="end">0.02</text></g>
<g transform="translate(496.7,146.83) scale(1,1.03)"><text font-family="Liberation Serif" font-weight="bold" font-size="13" fill="#303030" stroke="#303030" stroke-width="0.25" text-anchor="end">0.03</text></g>
<g transform="translate(496.7,120.06) scale(1,1.03)"><text font-family="Liberation Serif" font-weight="bold" font-size="13" fill="#303030" stroke="#303030" stroke-width="0.25" text-anchor="end">0.04</text></g>
<g transform="translate(496.7,93.28) scale(1,1.03)"><text font-family="Liberation Serif" font-weight="bold" font-size="13" fill="#303030" stroke="#303030" stroke-width="0.25" text-anchor="end">0.05</text></g>
<g transform="translate(496.7,66.5) scale(1,1.03)"><text font-family="Liberation Serif" font-weight="bold" font-size="13" fill="#303030" stroke="#303030" stroke-width="0.25" text-anchor="end">0.06</text></g>
<g transform="translate(496.7,39.73) scale(1,1.03)"><text font-family="Liberation Serif" font-weight="bold" font-size="13" fill="#303030" stroke="#303030" stroke-width="0.25" text-anchor="end">0.07</text></g>
<g transform="translate(496.7,12.95) scale(1,1.03)"><text font-family="Liberation Serif" font-weight="bold" font-size="13" fill="#303030" stroke="#303030" stroke-width="0.25" text-anchor="end">0.08</text></g>
<g transform="translate(590.75,270.8) scale(1,1.05)"><text font-family="Liberation Serif" font-weight="bold" font-size="14.3" fill="#303030" stroke="#303030" stroke-width="0.25" text-anchor="middle">Altitude (km)</text></g>
<g transform="translate(468.6,120.3) scale(0.94,1) rotate(-90)"><text font-family="Liberation Serif" font-weight="bold" font-size="13.8" fill="#303030" stroke="#303030" stroke-width="0.25" text-anchor="middle"><tspan font-style="italic">N</tspan> (ppm)</text></g>
<rect x="524.4" y="14.4" width="150.1" height="58.7" fill="#fff" stroke="#8a8a8a" stroke-width="1.1"/>
<path d="M536.8 29.6h13.6M543.6 23.2v12.8" stroke="#00ffff" stroke-width="1.5" fill="none"/>
<path d="M530.4 57.7H557.4" stroke="#0000ff" stroke-width="2.1" fill="none"/>
<g transform="translate(560.8,26.9) scale(1,1.04)"><text font-family="Liberation Serif" font-weight="bold" font-size="11.7" fill="#000" stroke="#000" stroke-width="0.25" text-anchor="start">refractivity calculated</text></g>
<g transform="translate(569.4,40.2) scale(1,1.04)"><text font-family="Liberation Serif" font-weight="bold" font-size="11.7" fill="#000" stroke="#000" stroke-width="0.25" text-anchor="start">by NRLMSIS 2.0.</text></g>
<g transform="translate(566.2,53.5) scale(1,1.04)"><text font-family="Liberation Serif" font-weight="bold" font-size="11.7" fill="#000" stroke="#000" stroke-width="0.25" text-anchor="start">e-index model of</text></g>
<g transform="translate(581.3,67.6) scale(1,1.04)"><text font-family="Liberation Serif" font-weight="bold" font-size="11.7" fill="#000" stroke="#000" stroke-width="0.25" text-anchor="start">refractivity.</text></g>
<g transform="translate(654.9,134.6) scale(1,0.95)"><text font-family="Liberation Serif" font-weight="bold" font-size="22" fill="#000" stroke="#000" stroke-width="0.25" text-anchor="middle">(c)</text></g>
</svg>
</div></body></html>
